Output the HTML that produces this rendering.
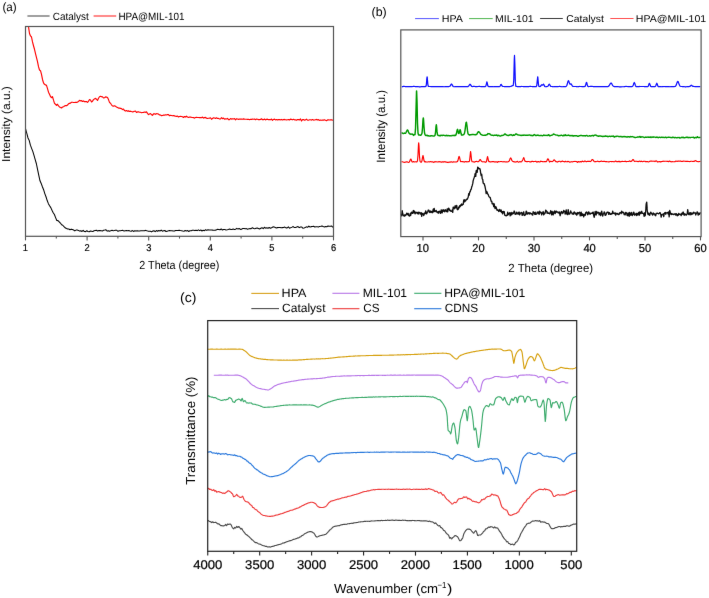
<!DOCTYPE html>
<html><head><meta charset="utf-8"><style>
html,body{margin:0;padding:0;background:#fff;width:709px;height:598px;overflow:hidden;}
body{position:relative;font-family:"Liberation Sans",sans-serif;}
</style></head><body>
<svg width="709" height="598" viewBox="0 0 709 598" style="position:absolute;left:0;top:0" font-family="Liberation Sans, sans-serif" text-rendering="geometricPrecision">
<defs><filter id="bl" filterUnits="userSpaceOnUse" x="0" y="0" width="709" height="598"><feConvolveMatrix order="3" kernelMatrix="0.0025 0.0450 0.0025 0.0450 0.8100 0.0450 0.0025 0.0450 0.0025" divisor="1" edgeMode="duplicate"/></filter></defs>
<rect width="709" height="598" fill="#fff"/><g filter="url(#bl)">
<text x="2.38" y="11.30" font-size="12" textLength="14.25" lengthAdjust="spacingAndGlyphs" fill="#000" stroke="#000" stroke-width="0.0">(a)</text>
<line x1="27.4" y1="16" x2="49.6" y2="16" stroke="#555" stroke-width="1.1"/>
<text x="52.80" y="19.50" font-size="10.5" textLength="35.87" lengthAdjust="spacingAndGlyphs" fill="#000" stroke="#000" stroke-width="0.0">Catalyst</text>
<line x1="93.6" y1="16" x2="116.2" y2="16" stroke="#ff2a2a" stroke-width="1.1"/>
<text x="118.39" y="19.60" font-size="10.5" textLength="66.09" lengthAdjust="spacingAndGlyphs" fill="#000" stroke="#000" stroke-width="0.0">HPA@MIL-101</text>
<path d="M28.50,26.70 L29.50,33.51 L30.50,35.96 L31.50,37.00 L32.50,41.91 L33.50,45.73 L34.50,49.27 L35.50,53.64 L36.50,57.65 L37.50,61.71 L38.50,66.68 L39.50,69.99 L40.50,70.66 L41.50,74.43 L42.50,79.47 L43.50,82.83 L44.50,84.35 L45.50,84.87 L46.50,85.34 L47.50,88.67 L48.50,92.18 L49.50,94.25 L50.50,96.50 L51.50,97.60 L52.50,96.72 L53.50,100.20 L54.50,103.33 L55.50,104.24 L56.50,105.28 L57.50,104.28 L58.50,105.93 L59.50,106.91 L60.50,107.54 L61.50,108.00 L62.50,107.02 L63.50,106.69 L64.50,106.07 L65.50,105.47 L66.50,105.78 L67.50,105.05 L68.50,103.83 L69.50,103.39 L70.50,103.12 L71.50,102.29 L72.50,102.29 L73.50,102.47 L74.50,102.54 L75.50,102.30 L76.50,102.35 L77.50,102.10 L78.50,101.44 L79.50,100.39 L80.50,100.82 L81.50,100.64 L82.50,101.45 L83.50,100.89 L84.50,101.79 L85.50,101.58 L86.50,101.53 L87.50,102.34 L88.50,101.32 L89.50,99.55 L90.50,100.00 L91.50,101.93 L92.50,101.18 L93.50,99.67 L94.50,98.88 L95.50,98.29 L96.50,99.26 L97.50,100.51 L98.50,98.25 L99.50,96.73 L100.50,96.31 L101.50,96.68 L102.50,96.88 L103.50,97.94 L104.50,97.69 L105.50,96.90 L106.50,97.07 L107.50,97.53 L108.50,99.59 L109.50,102.37 L110.50,103.22 L111.50,104.77 L112.50,105.99 L113.50,106.11 L114.50,105.80 L115.50,106.30 L116.50,106.97 L117.50,107.48 L118.50,108.07 L119.50,108.16 L120.50,108.36 L121.50,108.63 L122.50,109.55 L123.50,109.04 L124.50,110.60 L125.50,111.11 L126.50,110.56 L127.50,111.23 L128.50,110.85 L129.50,111.44 L130.50,111.16 L131.50,111.56 L132.50,111.87 L133.50,111.66 L134.50,111.28 L135.50,111.13 L136.50,112.48 L137.50,111.89 L138.50,111.80 L139.50,112.24 L140.50,112.23 L141.50,112.75 L142.50,112.47 L143.50,112.37 L144.50,112.00 L145.50,112.35 L146.50,111.89 L147.50,113.42 L148.50,114.64 L149.50,113.99 L150.50,113.56 L151.50,114.66 L152.50,115.33 L153.50,113.90 L154.50,113.71 L155.50,114.32 L156.50,113.68 L157.50,113.72 L158.50,114.15 L159.50,114.92 L160.50,114.99 L161.50,115.68 L162.50,115.53 L163.50,115.14 L164.50,115.19 L165.50,114.81 L166.50,115.03 L167.50,114.49 L168.50,114.64 L169.50,115.75 L170.50,115.31 L171.50,115.45 L172.50,115.81 L173.50,115.61 L174.50,115.86 L175.50,116.29 L176.50,116.41 L177.50,116.05 L178.50,116.98 L179.50,116.51 L180.50,116.37 L181.50,116.48 L182.50,116.71 L183.50,117.52 L184.50,116.50 L185.50,117.05 L186.50,116.22 L187.50,117.07 L188.50,117.46 L189.50,117.07 L190.50,116.96 L191.50,117.33 L192.50,117.55 L193.50,117.58 L194.50,118.12 L195.50,117.49 L196.50,117.23 L197.50,117.45 L198.50,117.51 L199.50,117.62 L200.50,117.61 L201.50,117.74 L202.50,117.09 L203.50,118.09 L204.50,117.61 L205.50,117.43 L206.50,118.17 L207.50,118.48 L208.50,118.21 L209.50,118.14 L210.50,117.77 L211.50,119.27 L212.50,118.56 L213.50,117.84 L214.50,118.03 L215.50,118.41 L216.50,117.83 L217.50,118.54 L218.50,118.35 L219.50,119.04 L220.50,118.98 L221.50,117.62 L222.50,118.70 L223.50,118.10 L224.50,119.16 L225.50,118.84 L226.50,119.02 L227.50,118.43 L228.50,119.57 L229.50,119.67 L230.50,118.53 L231.50,119.11 L232.50,118.74 L233.50,119.02 L234.50,118.58 L235.50,119.80 L236.50,118.76 L237.50,119.04 L238.50,119.38 L239.50,118.97 L240.50,119.16 L241.50,119.07 L242.50,119.26 L243.50,118.87 L244.50,119.17 L245.50,119.27 L246.50,119.23 L247.50,119.39 L248.50,119.27 L249.50,119.68 L250.50,119.29 L251.50,119.37 L252.50,119.18 L253.50,119.25 L254.50,118.98 L255.50,119.67 L256.50,119.05 L257.50,119.22 L258.50,119.65 L259.50,119.68 L260.50,119.39 L261.50,118.79 L262.50,119.73 L263.50,119.68 L264.50,119.06 L265.50,119.90 L266.50,119.35 L267.50,119.19 L268.50,119.66 L269.50,119.57 L270.50,119.72 L271.50,119.04 L272.50,120.35 L273.50,119.44 L274.50,119.09 L275.50,119.92 L276.50,119.56 L277.50,119.82 L278.50,119.58 L279.50,119.69 L280.50,119.82 L281.50,119.45 L282.50,120.00 L283.50,119.57 L284.50,119.43 L285.50,119.79 L286.50,119.94 L287.50,119.69 L288.50,119.46 L289.50,120.03 L290.50,119.13 L291.50,119.42 L292.50,119.83 L293.50,119.30 L294.50,119.83 L295.50,119.81 L296.50,120.17 L297.50,119.49 L298.50,119.60 L299.50,119.97 L300.50,118.92 L301.50,121.04 L302.50,119.60 L303.50,119.59 L304.50,120.20 L305.50,119.86 L306.50,119.21 L307.50,120.13 L308.50,120.22 L309.50,119.73 L310.50,119.80 L311.50,120.10 L312.50,119.58 L313.50,120.10 L314.50,120.01 L315.50,119.69 L316.50,119.43 L317.50,119.88 L318.50,119.64 L319.50,120.36 L320.50,120.05 L321.50,120.30 L322.50,120.06 L323.50,120.12 L324.50,119.73 L325.50,120.29 L326.50,120.72 L327.50,119.93 L328.50,119.84 L329.50,120.01 L330.50,119.90 L331.50,119.82 L332.50,120.15 L333.00,119.99" fill="none" stroke="#ff0000" stroke-width="1.15" stroke-linejoin="round"/>
<path d="M25.60,129.00 L26.80,133.35 L28.00,137.94 L29.20,140.37 L30.40,145.18 L31.60,148.33 L32.80,151.38 L34.00,155.39 L35.20,159.65 L36.40,163.77 L37.60,169.68 L38.80,175.42 L40.00,180.78 L41.20,183.43 L42.40,186.73 L43.60,189.68 L44.80,193.56 L46.00,196.77 L47.20,200.56 L48.40,203.67 L49.60,205.72 L50.80,207.65 L52.00,210.23 L53.20,212.66 L54.40,214.52 L55.60,217.60 L56.80,220.48 L58.00,220.61 L59.20,221.81 L60.40,223.03 L61.60,224.72 L62.80,225.25 L64.00,226.71 L65.20,227.77 L66.40,228.55 L67.60,228.87 L68.80,228.99 L70.00,229.68 L71.20,229.14 L72.40,229.61 L73.60,230.06 L74.80,230.85 L76.00,230.08 L77.20,230.09 L78.40,230.41 L79.60,231.11 L80.80,230.77 L82.00,231.48 L83.20,230.36 L84.40,231.58 L85.60,231.62 L86.80,230.77 L88.00,231.45 L89.20,231.70 L90.40,231.08 L91.60,231.24 L92.80,231.57 L94.00,230.72 L95.20,230.52 L96.40,230.35 L97.60,230.91 L98.80,230.60 L100.00,230.63 L101.20,230.66 L102.40,230.94 L103.60,230.28 L104.80,230.10 L106.00,229.75 L107.20,231.12 L108.40,230.69 L109.60,231.23 L110.80,230.64 L112.00,230.36 L113.20,230.82 L114.40,230.60 L115.60,230.15 L116.80,230.28 L118.00,231.28 L119.20,230.74 L120.40,230.76 L121.60,230.52 L122.80,230.39 L124.00,231.02 L125.20,230.67 L126.40,230.45 L127.60,230.71 L128.80,230.44 L130.00,230.89 L131.20,231.27 L132.40,230.55 L133.60,231.44 L134.80,230.67 L136.00,231.01 L137.20,230.66 L138.40,230.92 L139.60,231.01 L140.80,230.82 L142.00,230.72 L143.20,230.72 L144.40,230.66 L145.60,230.37 L146.80,230.86 L148.00,231.11 L149.20,231.30 L150.40,231.19 L151.60,231.87 L152.80,231.05 L154.00,230.75 L155.20,231.63 L156.40,230.52 L157.60,231.28 L158.80,230.54 L160.00,231.03 L161.20,230.14 L162.40,231.23 L163.60,230.82 L164.80,230.50 L166.00,231.50 L167.20,231.14 L168.40,230.86 L169.60,230.55 L170.80,230.81 L172.00,230.75 L173.20,231.08 L174.40,231.10 L175.60,230.54 L176.80,230.58 L178.00,230.57 L179.20,230.25 L180.40,230.53 L181.60,230.72 L182.80,231.01 L184.00,231.24 L185.20,230.42 L186.40,230.93 L187.60,230.54 L188.80,231.49 L190.00,230.65 L191.20,230.83 L192.40,230.25 L193.60,230.26 L194.80,230.61 L196.00,230.35 L197.20,230.60 L198.40,229.83 L199.60,230.64 L200.80,230.02 L202.00,230.98 L203.20,230.18 L204.40,230.67 L205.60,229.69 L206.80,230.35 L208.00,229.81 L209.20,229.93 L210.40,230.09 L211.60,229.92 L212.80,230.11 L214.00,230.26 L215.20,230.19 L216.40,229.87 L217.60,229.35 L218.80,229.53 L220.00,229.73 L221.20,228.94 L222.40,229.98 L223.60,229.56 L224.80,229.50 L226.00,229.91 L227.20,229.75 L228.40,229.53 L229.60,229.02 L230.80,229.46 L232.00,229.43 L233.20,228.91 L234.40,229.59 L235.60,229.34 L236.80,228.34 L238.00,229.09 L239.20,228.51 L240.40,229.37 L241.60,229.20 L242.80,228.42 L244.00,228.45 L245.20,228.78 L246.40,228.60 L247.60,229.22 L248.80,228.87 L250.00,228.44 L251.20,228.72 L252.40,227.68 L253.60,228.53 L254.80,228.69 L256.00,228.25 L257.20,228.00 L258.40,228.44 L259.60,228.93 L260.80,228.21 L262.00,227.66 L263.20,228.59 L264.40,227.29 L265.60,228.15 L266.80,227.69 L268.00,228.22 L269.20,227.50 L270.40,228.28 L271.60,227.84 L272.80,227.03 L274.00,226.89 L275.20,227.48 L276.40,228.07 L277.60,227.61 L278.80,227.56 L280.00,227.43 L281.20,227.78 L282.40,227.62 L283.60,227.57 L284.80,227.07 L286.00,227.88 L287.20,227.92 L288.40,226.89 L289.60,228.24 L290.80,227.62 L292.00,227.14 L293.20,226.59 L294.40,227.54 L295.60,227.48 L296.80,227.02 L298.00,226.55 L299.20,227.64 L300.40,226.97 L301.60,226.98 L302.80,228.21 L304.00,227.91 L305.20,227.44 L306.40,226.87 L307.60,227.26 L308.80,226.12 L310.00,227.00 L311.20,226.64 L312.40,226.41 L313.60,226.27 L314.80,227.04 L316.00,226.85 L317.20,226.84 L318.40,227.07 L319.60,226.40 L320.80,226.23 L322.00,225.99 L323.20,226.51 L324.40,226.90 L325.60,226.52 L326.80,226.79 L328.00,226.07 L329.20,226.31 L330.40,226.17 L331.60,225.96 L332.80,227.11 L333.00,226.72" fill="none" stroke="#000" stroke-width="1.05" stroke-linejoin="round"/>
<rect x="25.5" y="26.5" width="308.0" height="209.8" fill="none" stroke="#555" stroke-width="1.2"/>
<line x1="25.50" y1="236.3" x2="25.50" y2="240.4" stroke="#555" stroke-width="1.1"/>
<text x="22.78" y="250.60" font-size="10.0" textLength="5.17" lengthAdjust="spacingAndGlyphs" fill="#000" stroke="#000" stroke-width="0.22">1</text>
<line x1="87.10" y1="236.3" x2="87.10" y2="240.4" stroke="#555" stroke-width="1.1"/>
<text x="84.51" y="250.60" font-size="10.0" textLength="5.17" lengthAdjust="spacingAndGlyphs" fill="#000" stroke="#000" stroke-width="0.22">2</text>
<line x1="148.70" y1="236.3" x2="148.70" y2="240.4" stroke="#555" stroke-width="1.1"/>
<text x="146.14" y="250.60" font-size="10.0" textLength="5.17" lengthAdjust="spacingAndGlyphs" fill="#000" stroke="#000" stroke-width="0.22">3</text>
<line x1="210.30" y1="236.3" x2="210.30" y2="240.4" stroke="#555" stroke-width="1.1"/>
<text x="207.75" y="250.60" font-size="10.0" textLength="5.17" lengthAdjust="spacingAndGlyphs" fill="#000" stroke="#000" stroke-width="0.22">4</text>
<line x1="271.90" y1="236.3" x2="271.90" y2="240.4" stroke="#555" stroke-width="1.1"/>
<text x="269.32" y="250.60" font-size="10.0" textLength="5.17" lengthAdjust="spacingAndGlyphs" fill="#000" stroke="#000" stroke-width="0.22">5</text>
<line x1="333.50" y1="236.3" x2="333.50" y2="240.4" stroke="#555" stroke-width="1.1"/>
<text x="330.88" y="250.60" font-size="10.0" textLength="5.17" lengthAdjust="spacingAndGlyphs" fill="#000" stroke="#000" stroke-width="0.22">6</text>
<line x1="56.30" y1="236.3" x2="56.30" y2="238.6" stroke="#555" stroke-width="1.1"/>
<line x1="117.90" y1="236.3" x2="117.90" y2="238.6" stroke="#555" stroke-width="1.1"/>
<line x1="179.50" y1="236.3" x2="179.50" y2="238.6" stroke="#555" stroke-width="1.1"/>
<line x1="241.10" y1="236.3" x2="241.10" y2="238.6" stroke="#555" stroke-width="1.1"/>
<line x1="302.70" y1="236.3" x2="302.70" y2="238.6" stroke="#555" stroke-width="1.1"/>
<text x="139.26" y="268.80" font-size="11.7" textLength="80.10" lengthAdjust="spacingAndGlyphs" fill="#000" stroke="#000" stroke-width="0.0">2 Theta (degree)</text>
<text transform="rotate(-90)" x="-161.90" y="10.00" font-size="11.5" textLength="75.74" lengthAdjust="spacingAndGlyphs" fill="#000" stroke="#000" stroke-width="0.0">Intensity (a.u.)</text>
<text x="371.53" y="16.00" font-size="12.4" textLength="15.14" lengthAdjust="spacingAndGlyphs" fill="#000" stroke="#000" stroke-width="0.0">(b)</text>
<line x1="415.1" y1="18.6" x2="438.9" y2="18.6" stroke="#4a4aff" stroke-width="0.95"/>
<text x="441.72" y="22.20" font-size="9.9" textLength="21.20" lengthAdjust="spacingAndGlyphs" fill="#000" stroke="#000" stroke-width="0.0">HPA</text>
<line x1="469.1" y1="18.6" x2="492.7" y2="18.6" stroke="#44b044" stroke-width="0.95"/>
<text x="495.14" y="22.20" font-size="9.9" textLength="38.47" lengthAdjust="spacingAndGlyphs" fill="#000" stroke="#000" stroke-width="0.0">MIL-101</text>
<line x1="540.1" y1="18.5" x2="562.8" y2="18.5" stroke="#333" stroke-width="0.95"/>
<text x="566.28" y="22.20" font-size="9.9" textLength="37.60" lengthAdjust="spacingAndGlyphs" fill="#000" stroke="#000" stroke-width="0.0">Catalyst</text>
<line x1="610.3" y1="18.5" x2="633.5" y2="18.5" stroke="#ff4444" stroke-width="0.95"/>
<text x="635.83" y="22.20" font-size="9.9" textLength="70.38" lengthAdjust="spacingAndGlyphs" fill="#000" stroke="#000" stroke-width="0.0">HPA@MIL-101</text>
<path d="M401.80,86.80 L402.30,86.69 L402.80,86.57 L403.30,86.46 L403.80,86.34 L404.30,86.42 L404.80,86.49 L405.30,86.57 L405.80,86.64 L406.30,86.62 L406.80,86.59 L407.30,86.57 L407.80,86.54 L408.30,86.55 L408.80,86.55 L409.30,86.55 L409.80,86.55 L410.30,86.56 L410.80,86.57 L411.30,86.57 L411.80,86.58 L412.30,86.53 L412.80,86.49 L413.30,86.44 L413.80,86.40 L414.30,86.44 L414.80,86.49 L415.30,86.53 L415.80,86.58 L416.30,86.56 L416.80,86.55 L417.30,86.53 L417.80,86.51 L418.30,86.62 L418.80,86.72 L419.30,86.83 L419.80,86.93 L420.30,86.85 L420.80,86.78 L421.30,86.70 L421.80,86.62 L422.30,86.61 L422.80,86.59 L423.30,86.58 L423.80,86.56 L424.30,86.57 L424.80,86.57 L425.30,86.57 L425.80,86.49 L426.30,84.96 L426.80,78.96 L427.10,76.75 L427.30,77.79 L427.80,84.09 L428.30,86.36 L428.80,86.51 L429.30,86.50 L429.80,86.49 L430.30,86.51 L430.80,86.53 L431.30,86.54 L431.80,86.56 L432.30,86.58 L432.80,86.60 L433.30,86.63 L433.80,86.65 L434.30,86.63 L434.80,86.61 L435.30,86.59 L435.80,86.58 L436.30,86.61 L436.80,86.64 L437.30,86.67 L437.80,86.70 L438.30,86.67 L438.80,86.64 L439.30,86.61 L439.80,86.58 L440.30,86.59 L440.80,86.59 L441.30,86.60 L441.80,86.60 L442.30,86.64 L442.80,86.68 L443.30,86.72 L443.80,86.75 L444.30,86.73 L444.80,86.70 L445.30,86.68 L445.80,86.65 L446.30,86.63 L446.80,86.60 L447.30,86.58 L447.80,86.55 L448.30,86.56 L448.80,86.56 L449.30,86.51 L449.80,86.31 L450.30,85.76 L450.80,84.84 L451.30,84.12 L451.50,84.04 L451.80,84.23 L452.30,85.11 L452.80,86.03 L453.30,86.55 L453.80,86.75 L454.30,86.73 L454.80,86.68 L455.30,86.63 L455.80,86.57 L456.30,86.57 L456.80,86.57 L457.30,86.57 L457.80,86.58 L458.30,86.61 L458.80,86.64 L459.30,86.67 L459.80,86.70 L460.30,86.65 L460.80,86.61 L461.30,86.56 L461.80,86.51 L462.30,86.53 L462.80,86.54 L463.30,86.56 L463.80,86.57 L464.30,86.60 L464.80,86.63 L465.30,86.66 L465.80,86.69 L466.30,86.68 L466.80,86.67 L467.30,86.66 L467.80,86.60 L468.30,86.39 L468.80,85.85 L469.30,84.98 L469.80,84.28 L470.00,84.21 L470.30,84.39 L470.80,85.18 L471.30,86.01 L471.80,86.48 L472.30,86.54 L472.80,86.49 L473.30,86.40 L473.80,86.32 L474.30,86.41 L474.80,86.51 L475.30,86.61 L475.80,86.70 L476.30,86.65 L476.80,86.60 L477.30,86.55 L477.80,86.50 L478.30,86.49 L478.80,86.47 L479.30,86.45 L479.80,86.43 L480.30,86.48 L480.80,86.53 L481.30,86.58 L481.80,86.63 L482.30,86.64 L482.80,86.65 L483.30,86.66 L483.80,86.67 L484.30,86.64 L484.80,86.61 L485.30,86.56 L485.80,86.15 L486.30,84.30 L486.80,82.02 L486.90,81.92 L487.30,83.17 L487.80,85.58 L488.30,86.43 L488.80,86.54 L489.30,86.58 L489.80,86.60 L490.30,86.60 L490.80,86.60 L491.30,86.60 L491.80,86.59 L492.30,86.63 L492.80,86.67 L493.30,86.70 L493.80,86.74 L494.30,86.72 L494.80,86.71 L495.30,86.69 L495.80,86.67 L496.30,86.66 L496.80,86.65 L497.30,86.63 L497.80,86.62 L498.30,86.64 L498.80,86.66 L499.30,86.66 L499.80,86.49 L500.30,85.73 L500.80,84.62 L501.10,84.33 L501.30,84.44 L501.80,85.41 L502.30,86.25 L502.80,86.50 L503.30,86.52 L503.80,86.51 L504.30,86.55 L504.80,86.58 L505.30,86.62 L505.80,86.66 L506.30,86.66 L506.80,86.66 L507.30,86.66 L507.80,86.66 L508.30,86.64 L508.80,86.62 L509.30,86.59 L509.80,86.55 L510.30,86.48 L510.80,86.36 L511.30,86.17 L511.80,85.92 L512.30,85.70 L512.80,85.58 L513.00,85.56 L513.30,85.29 L513.80,79.20 L514.30,58.99 L514.50,55.47 L514.80,63.06 L515.30,82.12 L515.80,86.13 L516.30,86.41 L516.80,86.50 L517.30,86.59 L517.80,86.67 L518.30,86.66 L518.80,86.66 L519.30,86.65 L519.80,86.65 L520.30,86.60 L520.80,86.54 L521.30,86.49 L521.80,86.44 L522.30,86.48 L522.80,86.52 L523.30,86.56 L523.80,86.61 L524.30,86.58 L524.80,86.55 L525.30,86.53 L525.80,86.50 L526.30,86.55 L526.80,86.59 L527.30,86.63 L527.80,86.68 L528.30,86.61 L528.80,86.54 L529.30,86.47 L529.80,86.40 L530.30,86.42 L530.80,86.45 L531.30,86.48 L531.80,86.51 L532.30,86.55 L532.80,86.59 L533.30,86.63 L533.80,86.67 L534.30,86.68 L534.80,86.69 L535.30,86.70 L535.80,86.72 L536.30,86.60 L536.80,85.58 L537.30,80.37 L537.70,76.80 L537.80,77.05 L538.30,82.97 L538.80,86.16 L539.30,86.50 L539.80,86.54 L540.30,86.45 L540.80,86.01 L541.30,85.17 L541.70,84.80 L541.80,84.81 L542.30,85.19 L542.80,85.04 L543.30,84.24 L543.50,84.13 L543.80,84.42 L544.30,85.61 L544.80,86.42 L545.30,86.68 L545.80,86.76 L546.30,86.69 L546.80,86.62 L547.30,86.51 L547.80,86.24 L548.30,85.65 L548.80,84.70 L549.30,84.20 L549.80,84.78 L550.30,85.74 L550.80,86.32 L551.30,86.49 L551.80,86.49 L552.30,86.56 L552.80,86.62 L553.30,86.68 L553.80,86.74 L554.30,86.70 L554.80,86.67 L555.30,86.63 L555.80,86.60 L556.30,86.59 L556.80,86.58 L557.30,86.57 L557.80,86.56 L558.30,86.53 L558.80,86.50 L559.30,86.46 L559.80,86.43 L560.30,86.51 L560.80,86.60 L561.30,86.68 L561.80,86.77 L562.30,86.74 L562.80,86.72 L563.30,86.70 L563.80,86.68 L564.30,86.68 L564.80,86.67 L565.30,86.66 L565.80,86.58 L566.30,86.29 L566.80,85.46 L567.30,83.86 L567.80,81.91 L568.30,80.72 L568.40,80.68 L568.80,81.18 L569.30,82.74 L569.80,84.00 L570.30,84.19 L570.80,83.89 L571.00,83.88 L571.30,84.10 L571.80,84.95 L572.30,85.84 L572.80,86.32 L573.30,86.48 L573.80,86.51 L574.30,86.52 L574.80,86.52 L575.30,86.52 L575.80,86.52 L576.30,86.57 L576.80,86.63 L577.30,86.68 L577.80,86.74 L578.30,86.67 L578.80,86.60 L579.30,86.52 L579.80,86.45 L580.30,86.48 L580.80,86.50 L581.30,86.52 L581.80,86.54 L582.30,86.55 L582.80,86.55 L583.30,86.56 L583.80,86.57 L584.30,86.58 L584.80,86.52 L585.30,86.04 L585.80,84.50 L586.30,82.66 L586.50,82.43 L586.80,82.93 L587.30,84.92 L587.80,86.26 L588.30,86.57 L588.80,86.56 L589.30,86.52 L589.80,86.48 L590.30,86.46 L590.80,86.45 L591.30,86.44 L591.80,86.43 L592.30,86.47 L592.80,86.51 L593.30,86.56 L593.80,86.60 L594.30,86.63 L594.80,86.66 L595.30,86.69 L595.80,86.72 L596.30,86.71 L596.80,86.70 L597.30,86.69 L597.80,86.68 L598.30,86.66 L598.80,86.65 L599.30,86.64 L599.80,86.62 L600.30,86.61 L600.80,86.59 L601.30,86.58 L601.80,86.57 L602.30,86.58 L602.80,86.60 L603.30,86.61 L603.80,86.63 L604.30,86.62 L604.80,86.60 L605.30,86.59 L605.80,86.58 L606.30,86.60 L606.80,86.63 L607.30,86.64 L607.80,86.63 L608.30,86.46 L608.80,86.11 L609.30,85.47 L609.80,84.54 L610.30,83.60 L610.80,83.03 L611.00,82.98 L611.30,83.12 L611.80,83.85 L612.30,84.82 L612.80,85.66 L613.30,86.19 L613.80,86.45 L614.30,86.57 L614.80,86.61 L615.30,86.64 L615.80,86.65 L616.30,86.65 L616.80,86.64 L617.30,86.63 L617.80,86.62 L618.30,86.68 L618.80,86.74 L619.30,86.80 L619.80,86.86 L620.30,86.83 L620.80,86.80 L621.30,86.78 L621.80,86.75 L622.30,86.75 L622.80,86.75 L623.30,86.75 L623.80,86.75 L624.30,86.66 L624.80,86.57 L625.30,86.48 L625.80,86.40 L626.30,86.44 L626.80,86.48 L627.30,86.52 L627.80,86.57 L628.30,86.56 L628.80,86.55 L629.30,86.55 L629.80,86.54 L630.30,86.57 L630.80,86.60 L631.30,86.62 L631.80,86.65 L632.30,86.52 L632.80,86.11 L633.30,85.00 L633.80,83.27 L634.30,82.46 L634.80,83.45 L635.30,85.19 L635.80,86.31 L636.30,86.65 L636.80,86.71 L637.30,86.71 L637.80,86.71 L638.30,86.65 L638.80,86.59 L639.30,86.53 L639.80,86.47 L640.30,86.48 L640.80,86.49 L641.30,86.49 L641.80,86.50 L642.30,86.51 L642.80,86.51 L643.30,86.52 L643.80,86.52 L644.30,86.54 L644.80,86.56 L645.30,86.58 L645.80,86.60 L646.30,86.62 L646.80,86.63 L647.30,86.64 L647.80,86.56 L648.30,86.05 L648.80,84.61 L649.30,83.32 L649.40,83.28 L649.80,84.00 L650.30,85.61 L650.80,86.46 L651.30,86.61 L651.80,86.58 L652.30,86.60 L652.80,86.63 L653.30,86.65 L653.80,86.68 L654.30,86.66 L654.80,86.63 L655.30,86.48 L655.80,85.74 L656.30,84.18 L656.80,83.20 L657.30,84.26 L657.80,85.90 L658.30,86.60 L658.80,86.71 L659.30,86.70 L659.80,86.67 L660.30,86.69 L660.80,86.71 L661.30,86.72 L661.80,86.74 L662.30,86.68 L662.80,86.61 L663.30,86.55 L663.80,86.49 L664.30,86.51 L664.80,86.54 L665.30,86.56 L665.80,86.58 L666.30,86.57 L666.80,86.55 L667.30,86.53 L667.80,86.52 L668.30,86.58 L668.80,86.63 L669.30,86.69 L669.80,86.75 L670.30,86.73 L670.80,86.71 L671.30,86.69 L671.80,86.67 L672.30,86.64 L672.80,86.62 L673.30,86.59 L673.80,86.57 L674.30,86.55 L674.80,86.50 L675.30,86.33 L675.80,85.84 L676.30,84.86 L676.80,83.39 L677.30,81.95 L677.80,81.35 L678.30,81.94 L678.80,83.37 L679.30,84.84 L679.80,85.81 L680.30,86.29 L680.80,86.46 L681.30,86.50 L681.80,86.51 L682.30,86.54 L682.80,86.58 L683.30,86.61 L683.80,86.65 L684.30,86.70 L684.80,86.75 L685.30,86.80 L685.80,86.85 L686.30,86.78 L686.80,86.71 L687.30,86.64 L687.80,86.58 L688.30,86.57 L688.80,86.56 L689.30,86.53 L689.80,86.41 L690.30,86.06 L690.80,85.51 L691.30,85.20 L691.80,85.48 L692.30,86.01 L692.80,86.34 L693.30,86.45 L693.80,86.46 L694.30,86.51 L694.80,86.56 L695.30,86.61 L695.80,86.65 L696.30,86.66 L696.80,86.67 L697.30,86.68 L697.80,86.69 L698.30,86.66 L698.80,86.64 L699.30,86.62 L699.80,86.60 L700.30,86.61" fill="none" stroke="#0808ff" stroke-width="1.2" stroke-linejoin="round"/>
<path d="M401.50,132.69 L402.00,132.86 L402.50,133.14 L403.00,133.56 L403.50,133.56 L404.00,133.41 L404.50,133.08 L405.00,133.14 L405.50,133.27 L406.00,132.58 L406.50,131.43 L407.00,130.46 L407.40,129.95 L407.50,129.90 L408.00,130.42 L408.50,131.98 L409.00,133.11 L409.50,133.63 L410.00,134.06 L410.50,134.17 L411.00,133.94 L411.50,134.12 L412.00,134.28 L412.50,134.10 L413.00,134.57 L413.50,135.48 L414.00,134.89 L414.50,134.62 L415.00,134.58 L415.50,129.19 L416.00,110.72 L416.50,91.70 L416.60,90.96 L417.00,101.14 L417.50,123.32 L418.00,133.08 L418.50,134.77 L419.00,135.07 L419.50,135.04 L420.00,135.03 L420.50,135.37 L421.00,135.14 L421.50,134.38 L422.00,133.31 L422.50,128.04 L423.00,119.77 L423.30,117.86 L423.50,118.93 L424.00,126.71 L424.50,132.62 L425.00,134.67 L425.50,135.33 L426.00,135.50 L426.50,135.48 L427.00,135.20 L427.50,135.55 L428.00,135.93 L428.50,135.82 L429.00,135.90 L429.50,136.09 L430.00,136.13 L430.50,136.02 L431.00,135.70 L431.50,135.69 L432.00,135.78 L432.50,135.86 L433.00,135.97 L433.50,136.11 L434.00,136.09 L434.50,135.93 L435.00,135.26 L435.50,132.57 L436.00,126.59 L436.30,124.79 L436.50,125.58 L437.00,131.40 L437.50,134.81 L438.00,135.41 L438.50,135.45 L439.00,135.43 L439.50,135.73 L440.00,135.92 L440.50,135.45 L441.00,135.29 L441.50,135.34 L442.00,135.49 L442.50,135.48 L443.00,135.23 L443.50,135.27 L444.00,135.38 L444.50,135.47 L445.00,135.59 L445.50,135.74 L446.00,135.36 L446.50,135.34 L447.00,135.85 L447.50,135.70 L448.00,135.47 L448.50,135.58 L449.00,135.71 L449.50,135.84 L450.00,135.82 L450.50,135.81 L451.00,135.86 L451.50,135.72 L452.00,135.56 L452.50,135.51 L453.00,135.51 L453.50,135.55 L454.00,135.29 L454.50,135.29 L455.00,135.68 L455.50,135.42 L456.00,134.82 L456.50,133.35 L457.00,130.65 L457.50,129.32 L458.00,130.81 L458.50,133.33 L459.00,133.54 L459.50,131.72 L460.00,129.86 L460.10,129.69 L460.50,130.52 L461.00,133.30 L461.50,135.07 L462.00,135.04 L462.50,134.89 L463.00,134.98 L463.50,134.71 L464.00,134.20 L464.50,133.11 L465.00,130.57 L465.50,126.50 L466.00,122.86 L466.30,122.18 L466.50,122.58 L467.00,126.04 L467.50,130.68 L468.00,133.75 L468.50,134.36 L469.00,134.68 L469.50,135.11 L470.00,134.80 L470.50,134.66 L471.00,134.76 L471.50,134.58 L472.00,134.40 L472.50,134.41 L473.00,134.50 L473.50,134.64 L474.00,134.57 L474.50,134.61 L475.00,134.82 L475.50,134.70 L476.00,134.51 L476.50,134.51 L477.00,133.92 L477.50,132.89 L478.00,132.08 L478.50,131.67 L478.70,131.70 L479.00,131.92 L479.50,132.46 L480.00,133.20 L480.50,133.91 L481.00,134.45 L481.50,134.77 L482.00,134.93 L482.50,135.08 L483.00,135.33 L483.50,135.35 L484.00,135.30 L484.50,135.23 L485.00,135.25 L485.50,135.32 L486.00,135.02 L486.50,134.82 L487.00,134.77 L487.50,134.17 L488.00,133.57 L488.50,133.78 L488.90,133.81 L489.00,133.77 L489.50,133.74 L490.00,134.14 L490.50,134.61 L491.00,135.02 L491.50,135.16 L492.00,135.17 L492.50,135.17 L493.00,135.34 L493.50,135.63 L494.00,135.44 L494.50,135.25 L495.00,135.06 L495.50,135.24 L496.00,135.37 L496.50,134.98 L497.00,135.21 L497.50,135.85 L498.00,135.51 L498.50,135.33 L499.00,135.39 L499.50,135.74 L500.00,136.07 L500.50,136.05 L501.00,135.80 L501.50,135.40 L502.00,135.44 L502.50,135.41 L503.00,135.29 L503.50,135.10 L504.00,134.78 L504.50,134.17 L504.90,133.98 L505.00,133.99 L505.50,134.19 L506.00,134.70 L506.50,135.08 L507.00,135.15 L507.50,135.35 L508.00,135.49 L508.50,135.49 L509.00,135.29 L509.50,134.96 L510.00,135.01 L510.50,134.90 L511.00,134.56 L511.50,134.85 L512.00,135.26 L512.50,135.55 L513.00,135.38 L513.50,134.87 L514.00,135.19 L514.50,135.17 L515.00,134.75 L515.50,134.20 L516.00,133.89 L516.50,134.05 L517.00,134.43 L517.50,134.81 L518.00,134.89 L518.50,134.94 L519.00,135.09 L519.50,135.15 L520.00,135.21 L520.50,135.34 L521.00,135.41 L521.50,135.45 L522.00,135.16 L522.50,135.11 L523.00,135.40 L523.50,135.22 L524.00,135.01 L524.50,135.13 L525.00,135.23 L525.50,135.34 L526.00,135.27 L526.50,135.22 L527.00,135.20 L527.50,135.26 L528.00,135.29 L528.50,135.14 L529.00,135.07 L529.50,135.05 L530.00,135.14 L530.50,135.28 L531.00,135.50 L531.50,135.39 L532.00,135.30 L532.50,135.68 L533.00,135.65 L533.50,135.33 L534.00,134.74 L534.50,134.57 L535.00,135.05 L535.50,135.46 L536.00,135.72 L536.50,135.41 L537.00,135.24 L537.50,135.16 L538.00,135.08 L538.50,135.20 L539.00,135.61 L539.50,135.65 L540.00,135.59 L540.50,135.53 L541.00,135.48 L541.50,135.44 L542.00,135.63 L542.50,135.70 L543.00,135.58 L543.50,135.26 L544.00,135.03 L544.50,135.40 L545.00,135.49 L545.50,135.38 L546.00,135.33 L546.50,135.36 L547.00,135.53 L547.50,135.46 L548.00,135.24 L548.50,134.68 L549.00,134.97 L549.50,135.81 L550.00,135.72 L550.50,135.57 L551.00,135.35 L551.50,135.23 L552.00,135.11 L552.50,135.01 L553.00,134.55 L553.50,133.95 L554.00,134.11 L554.50,134.39 L555.00,134.62 L555.50,134.91 L556.00,135.09 L556.50,135.10 L557.00,135.12 L557.50,135.18 L558.00,135.52 L558.50,135.74 L559.00,135.79 L559.50,135.67 L560.00,135.53 L560.50,135.43 L561.00,135.31 L561.50,135.16 L562.00,135.47 L562.50,135.72 L563.00,135.89 L563.50,135.45 L564.00,135.08 L564.50,135.61 L565.00,135.45 L565.50,134.83 L566.00,135.18 L566.50,135.45 L567.00,135.59 L567.50,135.37 L568.00,135.10 L568.50,135.08 L569.00,135.27 L569.50,135.60 L570.00,135.74 L570.50,135.72 L571.00,135.47 L571.50,135.70 L572.00,135.90 L572.50,135.51 L573.00,135.65 L573.50,136.13 L574.00,135.83 L574.50,135.66 L575.00,135.69 L575.50,135.76 L576.00,135.81 L576.50,135.77 L577.00,135.92 L577.50,136.22 L578.00,136.29 L578.50,136.21 L579.00,135.91 L579.50,135.75 L580.00,135.61 L580.50,135.43 L581.00,135.41 L581.50,135.50 L582.00,135.65 L582.50,135.73 L583.00,135.72 L583.50,135.73 L584.00,135.75 L584.50,135.77 L585.00,135.83 L585.50,135.93 L586.00,135.59 L586.50,135.42 L587.00,135.49 L587.50,135.83 L588.00,136.15 L588.50,136.10 L589.00,135.93 L589.50,135.68 L590.00,136.03 L590.50,136.10 L591.00,135.74 L591.50,135.73 L592.00,135.74 L592.50,135.44 L593.00,135.57 L593.50,135.93 L594.00,135.52 L594.50,135.18 L595.00,135.13 L595.30,135.09 L595.50,135.09 L596.00,135.25 L596.50,135.47 L597.00,135.73 L597.50,135.91 L598.00,136.18 L598.50,136.23 L599.00,135.99 L599.50,135.95 L600.00,135.97 L600.50,136.02 L601.00,136.13 L601.50,136.28 L602.00,136.32 L602.50,136.42 L603.00,136.62 L603.50,136.37 L604.00,136.14 L604.50,136.40 L605.00,136.30 L605.50,135.96 L606.00,136.20 L606.50,136.32 L607.00,136.25 L607.50,136.48 L608.00,136.70 L608.50,136.50 L609.00,136.31 L609.50,136.12 L610.00,136.33 L610.50,136.44 L611.00,136.41 L611.50,136.32 L612.00,136.23 L612.50,136.25 L613.00,136.19 L613.50,136.08 L614.00,136.79 L614.50,137.02 L615.00,136.54 L615.50,136.58 L616.00,136.64 L616.50,136.25 L617.00,136.12 L617.50,136.14 L618.00,136.33 L618.50,136.45 L619.00,136.46 L619.50,136.62 L620.00,136.71 L620.50,136.38 L621.00,136.43 L621.50,136.74 L622.00,136.93 L622.50,136.87 L623.00,136.43 L623.50,136.63 L624.00,136.84 L624.50,136.50 L625.00,136.52 L625.50,136.78 L626.00,136.80 L626.50,136.92 L627.00,137.19 L627.50,136.89 L628.00,136.57 L628.50,136.74 L629.00,136.92 L629.50,137.10 L630.00,136.69 L630.50,136.54 L631.00,136.77 L631.50,136.70 L632.00,136.59 L632.50,136.64 L633.00,136.82 L633.50,137.09 L634.00,137.11 L634.50,137.26 L635.00,137.63 L635.50,137.53 L636.00,137.36 L636.50,137.36 L637.00,137.20 L637.50,136.94 L638.00,136.93 L638.50,136.96 L639.00,137.05 L639.50,136.72 L640.00,136.52 L640.50,137.27 L641.00,137.32 L641.50,136.89 L642.00,136.83 L642.50,136.85 L643.00,136.97 L643.50,137.21 L644.00,137.43 L644.50,137.51 L645.00,137.37 L645.50,137.08 L646.00,137.25 L646.50,137.31 L647.00,137.23 L647.50,137.09 L648.00,137.00 L648.50,137.23 L649.00,137.32 L649.50,137.30 L650.00,137.02 L650.50,137.05 L651.00,137.55 L651.50,137.25 L652.00,136.92 L652.50,137.26 L653.00,137.25 L653.50,137.01 L654.00,137.06 L654.50,137.10 L655.00,137.12 L655.50,137.34 L656.00,137.48 L656.50,137.12 L657.00,137.09 L657.50,137.29 L658.00,137.62 L658.50,137.65 L659.00,137.24 L659.50,137.25 L660.00,137.38 L660.50,137.52 L661.00,137.43 L661.50,137.20 L662.00,137.40 L662.50,137.44 L663.00,137.23 L663.50,137.39 L664.00,137.58 L664.50,137.46 L665.00,137.30 L665.50,137.12 L666.00,137.56 L666.50,137.71 L667.00,137.43 L667.50,137.35 L668.00,137.30 L668.50,137.19 L669.00,137.19 L669.50,137.28 L670.00,137.35 L670.50,137.42 L671.00,137.47 L671.50,137.62 L672.00,137.68 L672.50,137.23 L673.00,137.16 L673.50,137.34 L674.00,137.63 L674.50,137.73 L675.00,137.55 L675.50,137.55 L676.00,137.63 L676.50,137.85 L677.00,137.80 L677.50,137.57 L678.00,137.60 L678.50,137.58 L679.00,137.48 L679.50,137.74 L680.00,137.99 L680.50,137.86 L681.00,137.61 L681.50,137.28 L682.00,137.52 L682.50,137.54 L683.00,137.22 L683.50,137.50 L684.00,137.82 L684.50,137.74 L685.00,137.62 L685.50,137.47 L686.00,137.43 L686.50,137.30 L687.00,137.04 L687.50,137.37 L688.00,137.73 L688.50,137.56 L689.00,137.48 L689.50,137.45 L690.00,137.64 L690.50,137.66 L691.00,137.40 L691.50,137.36 L692.00,137.37 L692.50,137.36 L693.00,137.28 L693.50,137.16 L694.00,137.86 L694.50,138.09 L695.00,137.61 L695.50,137.49 L696.00,137.52 L696.50,137.76 L697.00,137.40 L697.50,136.64 L698.00,137.23 L698.50,137.58 L699.00,137.60 L699.50,137.45 L700.00,137.36 L700.50,137.63" fill="none" stroke="#009a00" stroke-width="1.45" stroke-linejoin="round"/>
<path d="M401.50,161.87 L402.00,161.78 L402.50,161.80 L403.00,161.99 L403.50,162.12 L404.00,162.23 L404.50,162.36 L405.00,162.30 L405.50,162.12 L406.00,162.00 L406.50,161.91 L407.00,161.87 L407.50,162.07 L408.00,162.32 L408.50,162.46 L409.00,162.29 L409.50,161.67 L410.00,160.49 L410.50,159.31 L410.80,159.10 L411.00,159.23 L411.50,160.54 L412.00,161.85 L412.50,162.08 L413.00,161.89 L413.50,161.57 L414.00,161.86 L414.50,161.96 L415.00,161.77 L415.50,161.80 L416.00,161.88 L416.50,161.90 L417.00,161.83 L417.50,160.76 L418.00,154.81 L418.50,144.30 L418.70,142.77 L419.00,145.89 L419.50,156.57 L420.00,161.25 L420.50,162.05 L421.00,162.18 L421.50,162.11 L422.00,160.60 L422.50,157.41 L423.00,155.48 L423.50,157.60 L424.00,160.55 L424.50,161.76 L425.00,161.85 L425.50,161.66 L426.00,161.88 L426.50,162.02 L427.00,162.00 L427.50,161.96 L428.00,161.90 L428.50,161.77 L429.00,161.78 L429.50,161.89 L430.00,161.77 L430.50,161.68 L431.00,161.63 L431.50,161.84 L432.00,162.01 L432.50,161.78 L433.00,161.92 L433.50,162.32 L434.00,162.24 L434.50,162.00 L435.00,161.52 L435.50,161.74 L436.00,162.01 L436.50,161.77 L437.00,161.79 L437.50,161.99 L438.00,161.99 L438.50,161.84 L439.00,161.49 L439.50,161.66 L440.00,161.90 L440.50,161.90 L441.00,162.02 L441.50,162.23 L442.00,161.86 L442.50,161.76 L443.00,162.10 L443.50,161.91 L444.00,161.67 L444.50,161.81 L445.00,161.81 L445.50,161.72 L446.00,162.11 L446.50,162.29 L447.00,162.14 L447.50,162.36 L448.00,162.56 L448.50,162.25 L449.00,162.14 L449.50,162.17 L450.00,162.17 L450.50,162.07 L451.00,161.81 L451.50,161.84 L452.00,161.96 L452.50,162.21 L453.00,162.12 L453.50,161.81 L454.00,161.91 L454.50,161.96 L455.00,161.92 L455.50,162.00 L456.00,162.05 L456.50,161.87 L457.00,161.77 L457.50,161.46 L458.00,160.33 L458.50,158.15 L459.00,156.49 L459.10,156.43 L459.50,157.12 L460.00,159.31 L460.50,161.28 L461.00,161.78 L461.50,161.52 L462.00,161.55 L462.50,161.55 L463.00,161.54 L463.50,161.85 L464.00,162.11 L464.50,161.88 L465.00,161.72 L465.50,161.61 L466.00,161.58 L466.50,161.67 L467.00,161.94 L467.50,161.79 L468.00,161.57 L468.50,161.53 L469.00,161.65 L469.50,161.15 L470.00,156.82 L470.50,151.73 L470.60,151.56 L471.00,154.43 L471.50,159.83 L472.00,161.64 L472.50,161.76 L473.00,161.77 L473.50,161.84 L474.00,162.08 L474.50,162.10 L475.00,161.77 L475.50,161.60 L476.00,161.48 L476.50,161.37 L477.00,161.50 L477.50,161.78 L478.00,161.73 L478.50,161.62 L479.00,161.24 L479.50,160.26 L480.00,159.49 L480.10,159.47 L480.50,159.80 L481.00,160.69 L481.50,161.33 L482.00,161.61 L482.50,161.72 L483.00,161.85 L483.50,161.79 L484.00,161.73 L484.50,161.81 L485.00,162.04 L485.50,162.35 L486.00,162.07 L486.50,161.32 L487.00,158.81 L487.50,156.53 L487.60,156.54 L488.00,158.32 L488.50,160.93 L489.00,161.66 L489.50,161.54 L490.00,161.86 L490.50,161.99 L491.00,161.83 L491.50,161.71 L492.00,161.62 L492.50,161.62 L493.00,161.58 L493.50,161.51 L494.00,161.69 L494.50,161.87 L495.00,162.05 L495.50,161.89 L496.00,161.72 L496.50,161.85 L497.00,162.05 L497.50,162.30 L498.00,161.76 L498.50,161.54 L499.00,161.79 L499.50,161.76 L500.00,161.66 L500.50,161.52 L501.00,161.47 L501.50,161.48 L502.00,161.65 L502.50,161.79 L503.00,161.86 L503.50,161.74 L504.00,161.63 L504.50,161.73 L505.00,161.84 L505.50,161.95 L506.00,161.88 L506.50,161.87 L507.00,161.97 L507.50,161.92 L508.00,161.81 L508.50,161.62 L509.00,161.21 L509.50,160.38 L510.00,158.89 L510.50,157.96 L510.60,157.92 L511.00,158.22 L511.50,159.46 L512.00,160.70 L512.50,161.16 L513.00,161.42 L513.50,161.61 L514.00,161.82 L514.50,161.93 L515.00,161.90 L515.50,162.02 L516.00,162.09 L516.50,161.82 L517.00,161.56 L517.50,161.30 L518.00,161.89 L518.50,162.19 L519.00,162.04 L519.50,161.71 L520.00,161.49 L520.50,161.91 L521.00,161.94 L521.50,161.68 L522.00,161.18 L522.50,160.39 L523.00,159.17 L523.50,157.83 L523.70,157.66 L524.00,158.07 L524.50,159.96 L525.00,161.19 L525.50,161.32 L526.00,161.54 L526.50,161.60 L527.00,161.60 L527.50,161.58 L528.00,161.55 L528.50,161.45 L529.00,161.53 L529.50,161.73 L530.00,161.88 L530.50,161.94 L531.00,161.85 L531.50,161.62 L532.00,161.39 L532.50,161.35 L533.00,161.47 L533.50,161.69 L534.00,161.54 L534.50,161.46 L535.00,161.47 L535.50,161.33 L536.00,161.30 L536.50,161.94 L537.00,162.08 L537.50,161.90 L538.00,161.57 L538.50,161.50 L539.00,161.83 L539.50,161.95 L540.00,161.88 L540.50,161.22 L541.00,161.15 L541.50,161.47 L542.00,161.50 L542.50,161.59 L543.00,161.77 L543.50,161.70 L544.00,161.58 L544.50,161.56 L545.00,161.56 L545.50,161.55 L546.00,161.71 L546.50,161.40 L547.00,160.50 L547.50,159.22 L547.80,158.75 L548.00,158.72 L548.50,159.46 L549.00,160.81 L549.50,162.06 L550.00,161.65 L550.50,161.34 L551.00,161.42 L551.50,161.52 L552.00,161.59 L552.50,161.50 L553.00,161.07 L553.50,160.34 L554.00,159.78 L554.50,160.07 L555.00,160.67 L555.50,161.34 L556.00,161.69 L556.50,161.68 L557.00,161.83 L557.50,162.12 L558.00,161.78 L558.50,161.49 L559.00,161.26 L559.50,161.25 L560.00,161.38 L560.50,161.82 L561.00,161.78 L561.50,161.43 L562.00,161.16 L562.50,161.10 L563.00,161.37 L563.50,161.50 L564.00,161.62 L564.50,161.83 L565.00,161.68 L565.50,161.30 L566.00,161.59 L566.50,161.77 L567.00,161.80 L567.50,161.59 L568.00,161.40 L568.50,161.49 L569.00,161.73 L569.50,162.07 L570.00,162.06 L570.50,161.99 L571.00,161.84 L571.50,161.74 L572.00,161.69 L572.50,161.83 L573.00,161.75 L573.50,161.53 L574.00,161.54 L574.50,161.49 L575.00,161.35 L575.50,161.45 L576.00,161.56 L576.50,161.55 L577.00,161.84 L577.50,162.34 L578.00,161.82 L578.50,161.61 L579.00,161.87 L579.50,161.92 L580.00,161.88 L580.50,161.61 L581.00,161.65 L581.50,161.89 L582.00,161.30 L582.50,161.11 L583.00,161.50 L583.50,161.69 L584.00,161.68 L584.50,161.11 L585.00,161.01 L585.50,161.23 L586.00,161.62 L586.50,161.76 L587.00,161.52 L587.50,161.36 L588.00,161.27 L588.50,161.39 L589.00,161.42 L589.50,161.38 L590.00,161.56 L590.50,161.52 L591.00,161.10 L591.50,160.39 L592.00,159.69 L592.40,159.45 L592.50,159.45 L593.00,159.86 L593.50,160.61 L594.00,161.37 L594.50,161.72 L595.00,161.64 L595.50,161.67 L596.00,161.69 L596.50,161.55 L597.00,161.38 L597.50,161.17 L598.00,161.28 L598.50,161.43 L599.00,161.67 L599.50,161.64 L600.00,161.53 L600.50,161.35 L601.00,161.20 L601.50,161.08 L602.00,161.38 L602.50,161.53 L603.00,161.45 L603.50,161.43 L604.00,161.43 L604.50,161.43 L605.00,161.50 L605.50,161.61 L606.00,161.61 L606.50,161.65 L607.00,161.77 L607.50,161.79 L608.00,161.80 L608.50,161.87 L609.00,161.84 L609.50,161.75 L610.00,161.55 L610.50,161.45 L611.00,161.49 L611.50,161.58 L612.00,161.63 L612.50,161.49 L613.00,161.52 L613.50,161.67 L614.00,161.77 L614.50,161.70 L615.00,161.36 L615.50,161.15 L616.00,161.12 L616.50,161.64 L617.00,161.72 L617.50,161.51 L618.00,161.64 L618.50,161.56 L619.00,161.21 L619.50,161.56 L620.00,161.96 L620.50,161.78 L621.00,161.62 L621.50,161.47 L622.00,161.43 L622.50,161.44 L623.00,161.52 L623.50,161.49 L624.00,161.45 L624.50,161.43 L625.00,161.33 L625.50,161.19 L626.00,161.60 L626.50,161.76 L627.00,161.53 L627.50,161.50 L628.00,161.52 L628.50,161.52 L629.00,161.26 L629.50,160.83 L630.00,161.34 L630.50,161.58 L631.00,161.40 L631.50,161.21 L632.00,160.74 L632.50,160.02 L633.00,159.51 L633.50,159.75 L634.00,160.85 L634.50,161.43 L635.00,161.31 L635.50,161.26 L636.00,161.23 L636.50,161.24 L637.00,161.35 L637.50,161.53 L638.00,161.63 L638.50,161.60 L639.00,161.36 L639.50,161.19 L640.00,161.15 L640.50,161.60 L641.00,161.55 L641.50,161.18 L642.00,161.57 L642.50,161.72 L643.00,161.50 L643.50,161.37 L644.00,161.28 L644.50,161.29 L645.00,161.41 L645.50,161.60 L646.00,161.68 L646.50,161.64 L647.00,161.45 L647.50,161.57 L648.00,161.77 L648.50,161.97 L649.00,161.81 L649.50,161.41 L650.00,161.24 L650.50,161.15 L651.00,161.17 L651.50,161.12 L652.00,161.10 L652.50,161.23 L653.00,161.27 L653.50,161.26 L654.00,161.15 L654.50,161.22 L655.00,161.54 L655.50,161.17 L656.00,160.77 L656.50,161.00 L657.00,161.44 L657.50,162.02 L658.00,161.85 L658.50,161.71 L659.00,161.62 L659.50,161.59 L660.00,161.63 L660.50,161.86 L661.00,161.82 L661.50,161.60 L662.00,161.52 L662.50,161.38 L663.00,161.15 L663.50,161.27 L664.00,161.40 L664.50,161.29 L665.00,161.24 L665.50,161.25 L666.00,161.25 L666.50,161.29 L667.00,161.41 L667.50,161.39 L668.00,161.39 L668.50,161.60 L669.00,161.45 L669.50,161.07 L670.00,161.27 L670.50,161.53 L671.00,161.89 L671.50,161.70 L672.00,161.49 L672.50,161.69 L673.00,161.77 L673.50,161.75 L674.00,161.78 L674.50,161.76 L675.00,161.66 L675.50,161.34 L676.00,161.08 L676.50,161.28 L677.00,161.34 L677.50,161.32 L678.00,161.12 L678.50,161.07 L679.00,161.26 L679.50,161.19 L680.00,161.06 L680.50,160.99 L681.00,161.16 L681.50,161.48 L682.00,161.44 L682.50,161.37 L683.00,161.25 L683.50,161.19 L684.00,161.17 L684.50,161.24 L685.00,161.28 L685.50,161.31 L686.00,161.31 L686.50,161.33 L687.00,161.39 L687.50,161.35 L688.00,161.32 L688.50,161.47 L689.00,161.54 L689.50,161.56 L690.00,161.53 L690.50,161.44 L691.00,161.26 L691.50,161.23 L692.00,161.27 L692.50,161.46 L693.00,161.46 L693.50,161.35 L694.00,161.38 L694.50,161.22 L695.00,160.79 L695.50,160.68 L696.00,160.76 L696.50,161.29 L697.00,161.50 L697.50,161.50 L698.00,161.68 L698.50,161.75 L699.00,161.63 L699.50,161.53 L700.00,161.45 L700.50,161.42" fill="none" stroke="#ff0000" stroke-width="1.15" stroke-linejoin="round"/>
<path d="M401.20,213.60 L401.70,215.92 L402.20,210.62 L402.70,213.74 L403.20,215.28 L403.70,215.81 L404.20,215.04 L404.70,216.20 L405.20,214.80 L405.70,215.23 L406.20,214.78 L406.70,213.12 L407.20,213.30 L407.70,214.73 L408.20,213.43 L408.70,215.65 L409.20,215.58 L409.70,216.11 L410.20,213.71 L410.70,215.32 L411.20,212.31 L411.70,212.27 L412.20,213.24 L412.70,213.34 L413.20,210.84 L413.70,210.53 L414.20,212.98 L414.70,211.31 L415.20,213.75 L415.70,212.58 L416.20,212.45 L416.70,212.49 L417.20,213.52 L417.70,212.38 L418.20,214.09 L418.70,212.24 L419.20,212.79 L419.70,212.38 L420.20,214.15 L420.70,213.61 L421.20,212.66 L421.70,216.40 L422.20,213.48 L422.70,213.63 L423.20,214.11 L423.70,215.64 L424.20,213.11 L424.70,214.01 L425.20,213.10 L425.70,210.99 L426.20,213.65 L426.70,213.77 L427.20,212.05 L427.70,212.20 L428.20,210.21 L428.70,210.06 L429.20,211.34 L429.70,212.49 L430.20,210.99 L430.70,211.81 L431.20,212.53 L431.70,211.31 L432.20,211.78 L432.70,212.74 L433.20,209.25 L433.70,211.61 L434.20,208.35 L434.70,211.52 L435.20,211.51 L435.70,210.86 L436.20,210.46 L436.70,212.01 L437.20,211.85 L437.70,212.76 L438.20,211.60 L438.70,213.24 L439.20,211.10 L439.70,211.84 L440.20,211.56 L440.70,213.46 L441.20,209.84 L441.70,211.02 L442.20,212.85 L442.70,210.41 L443.20,209.58 L443.70,211.37 L444.20,210.55 L444.70,211.85 L445.20,209.54 L445.70,210.82 L446.20,211.31 L446.70,211.66 L447.20,208.88 L447.70,211.93 L448.20,208.92 L448.70,208.19 L449.20,209.03 L449.70,210.55 L450.20,210.09 L450.70,211.19 L451.20,211.39 L451.70,211.01 L452.20,210.05 L452.70,212.40 L453.20,207.13 L453.70,207.49 L454.20,208.79 L454.70,207.62 L455.20,205.75 L455.70,207.77 L456.20,207.66 L456.70,205.37 L457.20,209.34 L457.70,209.72 L458.20,209.48 L458.70,207.13 L459.20,207.78 L459.70,205.56 L460.20,206.58 L460.70,204.84 L461.20,205.55 L461.70,203.97 L462.20,205.19 L462.70,204.43 L463.20,204.45 L463.70,200.39 L464.20,199.63 L464.70,201.91 L465.20,200.18 L465.70,200.72 L466.20,199.93 L466.70,199.11 L467.20,199.36 L467.70,198.23 L468.20,197.23 L468.70,193.73 L469.20,195.21 L469.70,191.85 L470.20,191.82 L470.70,189.58 L471.20,189.50 L471.70,186.85 L472.20,185.67 L472.70,183.64 L473.20,180.65 L473.70,178.89 L474.20,177.49 L474.70,175.95 L475.20,173.52 L475.70,176.34 L476.20,170.82 L476.70,170.32 L477.20,172.39 L477.70,167.14 L478.20,167.56 L478.70,168.66 L479.20,168.81 L479.70,168.52 L480.20,169.71 L480.70,173.39 L481.20,175.68 L481.70,174.20 L482.20,178.77 L482.70,179.44 L483.20,183.05 L483.70,183.61 L484.20,183.72 L484.70,185.51 L485.20,187.40 L485.70,190.25 L486.20,193.59 L486.70,191.45 L487.20,192.38 L487.70,194.19 L488.20,194.36 L488.70,196.19 L489.20,196.89 L489.70,197.41 L490.20,197.42 L490.70,199.61 L491.20,201.40 L491.70,201.19 L492.20,203.82 L492.70,203.93 L493.20,203.41 L493.70,206.57 L494.20,203.82 L494.70,207.26 L495.20,208.68 L495.70,206.61 L496.20,207.37 L496.70,209.24 L497.20,210.42 L497.70,209.76 L498.20,210.08 L498.70,211.49 L499.20,210.98 L499.70,209.46 L500.20,211.05 L500.70,211.57 L501.20,210.03 L501.70,212.71 L502.20,211.60 L502.70,213.77 L503.20,211.29 L503.70,212.14 L504.20,211.59 L504.70,215.15 L505.20,215.27 L505.70,215.65 L506.20,215.79 L506.70,215.21 L507.20,215.33 L507.70,212.22 L508.20,214.73 L508.70,213.67 L509.20,213.87 L509.70,212.70 L510.20,215.86 L510.70,214.39 L511.20,212.30 L511.70,214.77 L512.20,214.00 L512.70,212.75 L513.20,213.64 L513.70,212.99 L514.20,211.03 L514.70,211.94 L515.20,214.42 L515.70,214.16 L516.20,214.01 L516.70,212.14 L517.20,212.81 L517.70,213.60 L518.20,214.33 L518.70,212.37 L519.20,212.08 L519.70,214.82 L520.20,213.48 L520.70,212.92 L521.20,212.47 L521.70,212.58 L522.20,215.38 L522.70,214.61 L523.20,212.88 L523.70,211.83 L524.20,215.49 L524.70,215.36 L525.20,214.91 L525.70,214.45 L526.20,211.04 L526.70,211.79 L527.20,214.11 L527.70,213.04 L528.20,213.72 L528.70,212.74 L529.20,212.58 L529.70,214.09 L530.20,212.90 L530.70,213.40 L531.20,213.72 L531.70,213.69 L532.20,214.85 L532.70,215.11 L533.20,211.69 L533.70,213.06 L534.20,212.59 L534.70,214.34 L535.20,212.06 L535.70,214.35 L536.20,214.22 L536.70,214.04 L537.20,212.07 L537.70,212.98 L538.20,211.87 L538.70,213.69 L539.20,214.35 L539.70,211.23 L540.20,212.06 L540.70,212.86 L541.20,212.37 L541.70,214.87 L542.20,212.79 L542.70,213.26 L543.20,211.52 L543.70,214.81 L544.20,213.05 L544.70,213.78 L545.20,212.90 L545.70,210.14 L546.20,210.79 L546.70,211.18 L547.20,213.37 L547.70,212.14 L548.20,213.31 L548.70,213.13 L549.20,213.08 L549.70,213.92 L550.20,212.99 L550.70,210.71 L551.20,211.91 L551.70,214.83 L552.20,211.41 L552.70,214.45 L553.20,214.81 L553.70,212.00 L554.20,213.17 L554.70,210.98 L555.20,213.70 L555.70,211.76 L556.20,211.09 L556.70,212.23 L557.20,212.15 L557.70,211.98 L558.20,212.96 L558.70,212.50 L559.20,211.88 L559.70,213.89 L560.20,215.73 L560.70,212.81 L561.20,211.87 L561.70,211.53 L562.20,213.53 L562.70,212.49 L563.20,212.85 L563.70,210.35 L564.20,211.45 L564.70,211.44 L565.20,214.09 L565.70,212.59 L566.20,209.84 L566.70,213.57 L567.20,214.40 L567.70,214.64 L568.20,209.53 L568.70,213.24 L569.20,214.08 L569.70,213.85 L570.20,212.81 L570.70,210.88 L571.20,212.61 L571.70,212.76 L572.20,213.91 L572.70,214.01 L573.20,212.92 L573.70,214.31 L574.20,211.95 L574.70,212.43 L575.20,213.29 L575.70,214.12 L576.20,213.07 L576.70,215.08 L577.20,214.13 L577.70,212.50 L578.20,213.86 L578.70,212.72 L579.20,212.70 L579.70,212.19 L580.20,215.79 L580.70,215.25 L581.20,212.18 L581.70,215.65 L582.20,215.48 L582.70,213.77 L583.20,214.80 L583.70,216.91 L584.20,214.41 L584.70,214.52 L585.20,215.34 L585.70,212.59 L586.20,212.25 L586.70,212.01 L587.20,213.62 L587.70,214.75 L588.20,212.53 L588.70,211.83 L589.20,213.76 L589.70,213.00 L590.20,214.19 L590.70,213.28 L591.20,213.22 L591.70,213.35 L592.20,213.51 L592.70,212.27 L593.20,212.07 L593.70,215.46 L594.20,217.35 L594.70,214.89 L595.20,211.46 L595.70,213.54 L596.20,214.99 L596.70,211.48 L597.20,212.90 L597.70,213.01 L598.20,212.38 L598.70,212.48 L599.20,214.80 L599.70,212.97 L600.20,213.25 L600.70,215.69 L601.20,212.48 L601.70,211.15 L602.20,214.36 L602.70,216.07 L603.20,213.82 L603.70,213.95 L604.20,211.95 L604.70,212.40 L605.20,215.40 L605.70,215.15 L606.20,214.31 L606.70,212.77 L607.20,212.09 L607.70,212.27 L608.20,212.11 L608.70,214.34 L609.20,212.59 L609.70,212.95 L610.20,214.44 L610.70,214.41 L611.20,213.63 L611.70,214.17 L612.20,213.57 L612.70,211.14 L613.20,213.47 L613.70,213.04 L614.20,213.12 L614.70,213.87 L615.20,212.86 L615.70,215.11 L616.20,213.36 L616.70,213.79 L617.20,214.00 L617.70,213.37 L618.20,214.40 L618.70,214.54 L619.20,214.39 L619.70,212.71 L620.20,212.46 L620.70,212.83 L621.20,213.59 L621.70,211.24 L622.20,212.52 L622.70,212.13 L623.20,212.73 L623.70,212.42 L624.20,214.59 L624.70,214.13 L625.20,214.77 L625.70,212.33 L626.20,212.59 L626.70,213.20 L627.20,215.65 L627.70,215.68 L628.20,212.80 L628.70,214.37 L629.20,216.27 L629.70,212.29 L630.20,213.35 L630.70,215.21 L631.20,214.49 L631.70,212.34 L632.20,215.49 L632.70,214.82 L633.20,214.46 L633.70,212.04 L634.20,213.39 L634.70,215.24 L635.20,214.21 L635.70,214.59 L636.20,213.26 L636.70,215.49 L637.20,213.29 L637.70,214.75 L638.20,214.00 L638.70,212.39 L639.20,215.46 L639.70,212.02 L640.20,212.67 L640.70,213.77 L641.20,211.84 L641.70,211.33 L642.20,213.45 L642.70,213.06 L643.20,213.25 L643.70,214.22 L644.20,216.42 L644.70,212.77 L645.20,215.63 L645.70,210.96 L646.20,203.91 L646.70,202.09 L647.20,210.36 L647.70,213.47 L648.20,214.70 L648.70,213.12 L649.20,214.54 L649.70,215.27 L650.20,213.44 L650.70,212.11 L651.20,212.90 L651.70,213.74 L652.20,214.47 L652.70,215.08 L653.20,212.95 L653.70,214.14 L654.20,213.77 L654.70,214.13 L655.20,215.47 L655.70,215.71 L656.20,213.48 L656.70,213.31 L657.20,213.21 L657.70,213.41 L658.20,213.54 L658.70,213.85 L659.20,213.42 L659.70,212.71 L660.20,212.58 L660.70,214.11 L661.20,217.09 L661.70,214.73 L662.20,214.84 L662.70,214.46 L663.20,213.82 L663.70,216.52 L664.20,213.62 L664.70,212.79 L665.20,212.46 L665.70,214.23 L666.20,212.75 L666.70,212.90 L667.20,212.90 L667.70,212.33 L668.20,214.18 L668.70,211.87 L669.20,216.82 L669.70,210.51 L670.20,212.21 L670.70,214.03 L671.20,214.47 L671.70,213.52 L672.20,214.30 L672.70,214.16 L673.20,214.09 L673.70,214.67 L674.20,214.23 L674.70,213.80 L675.20,213.75 L675.70,215.03 L676.20,213.68 L676.70,214.62 L677.20,215.88 L677.70,214.39 L678.20,215.41 L678.70,213.35 L679.20,214.23 L679.70,214.52 L680.20,214.17 L680.70,214.47 L681.20,215.62 L681.70,213.46 L682.20,213.01 L682.70,214.25 L683.20,212.01 L683.70,213.81 L684.20,215.31 L684.70,213.79 L685.20,214.48 L685.70,214.27 L686.20,215.29 L686.70,214.41 L687.20,214.03 L687.70,209.60 L688.20,213.10 L688.70,214.64 L689.20,213.56 L689.70,212.79 L690.20,214.85 L690.70,212.60 L691.20,213.27 L691.70,214.54 L692.20,213.03 L692.70,213.88 L693.20,213.63 L693.70,212.14 L694.20,212.97 L694.70,213.16 L695.20,212.80 L695.70,214.97 L696.20,213.56 L696.70,212.78 L697.20,211.83 L697.70,213.16 L698.20,215.19 L698.70,213.16 L699.20,214.48 L699.70,214.09 L700.20,212.87 L700.50,212.32" fill="none" stroke="#0a0a0a" stroke-width="1.3" stroke-linejoin="round"/>
<rect x="400.8" y="29.9" width="300.3" height="206.7" fill="none" stroke="#555" stroke-width="1.2"/>
<line x1="423.00" y1="236.6" x2="423.00" y2="240.4" stroke="#555" stroke-width="1.1"/>
<text x="416.59" y="252.30" font-size="11.5" textLength="12.41" lengthAdjust="spacingAndGlyphs" fill="#000" stroke="#000" stroke-width="0.22">10</text>
<line x1="478.50" y1="236.6" x2="478.50" y2="240.4" stroke="#555" stroke-width="1.1"/>
<text x="472.23" y="252.30" font-size="11.5" textLength="12.41" lengthAdjust="spacingAndGlyphs" fill="#000" stroke="#000" stroke-width="0.22">20</text>
<line x1="534.00" y1="236.6" x2="534.00" y2="240.4" stroke="#555" stroke-width="1.1"/>
<text x="527.80" y="252.30" font-size="11.5" textLength="12.41" lengthAdjust="spacingAndGlyphs" fill="#000" stroke="#000" stroke-width="0.22">30</text>
<line x1="589.50" y1="236.6" x2="589.50" y2="240.4" stroke="#555" stroke-width="1.1"/>
<text x="583.39" y="252.30" font-size="11.5" textLength="12.41" lengthAdjust="spacingAndGlyphs" fill="#000" stroke="#000" stroke-width="0.22">40</text>
<line x1="645.00" y1="236.6" x2="645.00" y2="240.4" stroke="#555" stroke-width="1.1"/>
<text x="638.79" y="252.30" font-size="11.5" textLength="12.41" lengthAdjust="spacingAndGlyphs" fill="#000" stroke="#000" stroke-width="0.22">50</text>
<line x1="700.50" y1="236.6" x2="700.50" y2="240.4" stroke="#555" stroke-width="1.1"/>
<text x="694.23" y="252.30" font-size="11.5" textLength="12.41" lengthAdjust="spacingAndGlyphs" fill="#000" stroke="#000" stroke-width="0.22">60</text>
<line x1="450.75" y1="236.6" x2="450.75" y2="238.9" stroke="#555" stroke-width="1.1"/>
<line x1="506.25" y1="236.6" x2="506.25" y2="238.9" stroke="#555" stroke-width="1.1"/>
<line x1="561.75" y1="236.6" x2="561.75" y2="238.9" stroke="#555" stroke-width="1.1"/>
<line x1="617.25" y1="236.6" x2="617.25" y2="238.9" stroke="#555" stroke-width="1.1"/>
<line x1="672.75" y1="236.6" x2="672.75" y2="238.9" stroke="#555" stroke-width="1.1"/>
<text x="508.33" y="271.80" font-size="11.8" textLength="84.77" lengthAdjust="spacingAndGlyphs" fill="#000" stroke="#000" stroke-width="0.0">2 Theta (degree)</text>
<text transform="rotate(-90)" x="-162.66" y="384.60" font-size="12.0" textLength="72.67" lengthAdjust="spacingAndGlyphs" fill="#000" stroke="#000" stroke-width="0.0">Intensity (a.u.)</text>
<text x="180.13" y="301.90" font-size="13.3" textLength="16.34" lengthAdjust="spacingAndGlyphs" fill="#000" stroke="#000" stroke-width="0.0">(c)</text>
<line x1="251.3" y1="293.4" x2="279.0" y2="293.4" stroke="#d9a21e" stroke-width="1.1"/>
<text x="281.57" y="297.20" font-size="12.0" textLength="24.96" lengthAdjust="spacingAndGlyphs" fill="#000" stroke="#000" stroke-width="0.0">HPA</text>
<line x1="332.4" y1="293.3" x2="359.4" y2="293.3" stroke="#b877e8" stroke-width="1.1"/>
<text x="362.81" y="297.20" font-size="12.0" textLength="44.27" lengthAdjust="spacingAndGlyphs" fill="#000" stroke="#000" stroke-width="0.0">MIL-101</text>
<line x1="414.2" y1="293.3" x2="441.4" y2="293.3" stroke="#3cab6c" stroke-width="1.1"/>
<text x="444.30" y="297.20" font-size="12.0" textLength="80.99" lengthAdjust="spacingAndGlyphs" fill="#000" stroke="#000" stroke-width="0.0">HPA@MIL-101</text>
<line x1="251.3" y1="308.6" x2="279.0" y2="308.6" stroke="#4a4a4a" stroke-width="1.1"/>
<text x="282.00" y="312.40" font-size="12.0" textLength="43.49" lengthAdjust="spacingAndGlyphs" fill="#000" stroke="#000" stroke-width="0.0">Catalyst</text>
<line x1="332.4" y1="308.7" x2="359.4" y2="308.7" stroke="#ee3a3a" stroke-width="1.1"/>
<text x="363.22" y="312.40" font-size="12.0" textLength="16.21" lengthAdjust="spacingAndGlyphs" fill="#000" stroke="#000" stroke-width="0.0">CS</text>
<line x1="414.2" y1="308.7" x2="441.4" y2="308.7" stroke="#2a78dc" stroke-width="1.1"/>
<text x="444.71" y="312.40" font-size="12.0" textLength="33.41" lengthAdjust="spacingAndGlyphs" fill="#000" stroke="#000" stroke-width="0.0">CDNS</text>
<path d="M207.70,349.20 L208.20,349.23 L208.70,349.27 L209.20,349.26 L209.70,349.26 L210.20,349.22 L210.70,349.17 L211.20,349.18 L211.70,349.19 L212.20,349.18 L212.70,349.17 L213.20,349.20 L213.70,349.23 L214.20,349.21 L214.70,349.20 L215.20,349.22 L215.70,349.24 L216.20,349.17 L216.70,349.11 L217.20,349.19 L217.70,349.28 L218.20,349.24 L218.70,349.20 L219.20,349.21 L219.70,349.23 L220.20,349.21 L220.70,349.19 L221.20,349.19 L221.70,349.18 L222.20,349.20 L222.70,349.22 L223.20,349.23 L223.70,349.24 L224.20,349.22 L224.70,349.19 L225.20,349.19 L225.70,349.19 L226.20,349.21 L226.70,349.23 L227.20,349.20 L227.70,349.16 L228.20,349.14 L228.70,349.12 L229.20,349.17 L229.70,349.22 L230.20,349.19 L230.70,349.17 L231.20,349.14 L231.70,349.10 L232.20,349.13 L232.70,349.16 L233.20,349.17 L233.70,349.18 L234.20,349.16 L234.70,349.14 L235.20,349.13 L235.70,349.13 L236.20,349.16 L236.70,349.20 L237.20,349.22 L237.70,349.24 L238.20,349.22 L238.70,349.19 L239.20,349.18 L239.70,349.16 L240.20,349.19 L240.70,349.22 L241.20,349.23 L241.70,349.28 L242.20,349.39 L242.70,349.57 L243.20,349.85 L243.70,350.17 L244.20,350.50 L244.70,350.84 L245.20,351.12 L245.70,351.44 L246.20,351.84 L246.70,352.29 L247.20,352.82 L247.70,353.38 L248.20,353.90 L248.70,354.41 L249.20,354.91 L249.70,355.36 L250.20,355.66 L250.60,355.85 L250.70,355.89 L251.20,356.15 L251.70,356.40 L252.20,356.62 L252.70,356.83 L253.20,357.01 L253.70,357.19 L254.20,357.42 L254.70,357.64 L255.20,357.81 L255.70,357.97 L256.20,358.08 L256.70,358.18 L257.20,358.35 L257.70,358.51 L258.20,358.59 L258.60,358.64 L258.70,358.66 L259.20,358.73 L259.70,358.80 L260.20,358.87 L260.70,358.93 L261.20,359.02 L261.70,359.10 L262.20,359.11 L262.70,359.11 L263.20,359.22 L263.70,359.33 L264.20,359.38 L264.70,359.44 L265.20,359.43 L265.70,359.42 L266.20,359.52 L266.70,359.61 L267.20,359.64 L267.70,359.66 L268.20,359.73 L268.70,359.78 L269.20,359.78 L269.70,359.78 L270.20,359.82 L270.70,359.85 L271.20,359.88 L271.70,359.91 L272.00,359.90 L272.20,359.89 L272.70,359.88 L273.20,359.93 L273.70,359.98 L274.20,359.97 L274.70,359.97 L275.20,360.00 L275.70,360.02 L276.20,360.01 L276.70,360.00 L277.20,360.05 L277.70,360.10 L278.20,360.10 L278.70,360.10 L279.20,360.09 L279.70,360.08 L280.20,360.11 L280.70,360.14 L281.20,360.16 L281.70,360.19 L282.20,360.21 L282.70,360.23 L283.20,360.15 L283.70,360.07 L284.20,360.14 L284.70,360.21 L285.20,360.20 L285.70,360.20 L286.20,360.19 L286.70,360.18 L287.20,360.16 L287.70,360.14 L288.20,360.20 L288.70,360.26 L289.20,360.20 L289.70,360.14 L290.20,360.18 L290.70,360.23 L291.20,360.25 L291.70,360.26 L292.20,360.18 L292.70,360.10 L293.20,360.12 L293.70,360.14 L294.20,360.10 L294.70,360.06 L295.20,360.08 L295.70,360.10 L296.20,360.11 L296.70,360.12 L297.20,360.11 L297.70,360.09 L298.20,359.97 L298.70,359.85 L299.20,359.85 L299.70,359.85 L300.20,359.85 L300.70,359.85 L301.20,359.84 L301.70,359.83 L302.20,359.76 L302.70,359.70 L303.20,359.64 L303.70,359.58 L304.20,359.57 L304.70,359.56 L305.20,359.52 L305.70,359.47 L306.20,359.44 L306.70,359.40 L307.20,359.35 L307.70,359.31 L308.20,359.30 L308.70,359.30 L309.20,359.27 L309.70,359.24 L310.20,359.20 L310.70,359.17 L311.20,359.14 L311.70,359.11 L312.20,359.06 L312.70,359.01 L313.20,359.02 L313.70,359.02 L314.20,359.04 L314.70,359.06 L315.20,359.01 L315.70,358.96 L316.20,358.91 L316.70,358.87 L317.20,358.92 L317.70,358.97 L318.20,358.94 L318.70,358.90 L319.20,358.93 L319.70,358.95 L320.20,358.88 L320.70,358.81 L321.20,358.78 L321.70,358.75 L322.20,358.71 L322.70,358.66 L323.20,358.71 L323.70,358.76 L324.20,358.77 L324.70,358.78 L325.20,358.67 L325.60,358.58 L325.70,358.55 L326.20,358.53 L326.70,358.50 L327.20,358.49 L327.70,358.48 L328.20,358.40 L328.70,358.31 L329.20,358.27 L329.70,358.23 L330.20,358.17 L330.70,358.12 L331.20,358.07 L331.70,358.02 L332.20,357.98 L332.70,357.94 L333.20,357.86 L333.70,357.77 L334.20,357.73 L334.70,357.69 L335.20,357.60 L335.70,357.51 L336.20,357.47 L336.70,357.43 L337.20,357.32 L337.70,357.21 L338.20,357.18 L338.70,357.15 L339.00,357.16 L339.20,357.17 L339.70,357.19 L340.20,357.11 L340.70,357.04 L341.20,357.03 L341.70,357.02 L342.20,356.98 L342.70,356.94 L343.20,356.92 L343.70,356.90 L344.20,356.85 L344.70,356.80 L345.20,356.77 L345.70,356.74 L346.20,356.68 L346.70,356.61 L347.20,356.56 L347.70,356.51 L348.20,356.48 L348.70,356.44 L349.20,356.41 L349.70,356.38 L350.20,356.33 L350.70,356.29 L351.20,356.27 L351.70,356.25 L352.20,356.23 L352.70,356.21 L353.20,356.19 L353.70,356.17 L354.20,356.12 L354.70,356.08 L355.20,356.01 L355.70,355.94 L356.20,355.96 L356.70,355.98 L357.20,355.96 L357.70,355.94 L358.20,355.94 L358.70,355.93 L359.20,355.90 L359.70,355.86 L360.20,355.81 L360.70,355.75 L361.20,355.73 L361.70,355.71 L362.20,355.75 L362.70,355.80 L363.20,355.75 L363.70,355.70 L364.20,355.71 L364.70,355.72 L365.20,355.72 L365.70,355.71 L365.80,355.69 L366.20,355.62 L366.70,355.53 L367.20,355.55 L367.70,355.57 L368.20,355.56 L368.70,355.55 L369.20,355.54 L369.70,355.53 L370.20,355.52 L370.70,355.51 L371.20,355.49 L371.70,355.47 L372.20,355.46 L372.70,355.45 L373.20,355.40 L373.70,355.35 L374.20,355.37 L374.70,355.40 L375.20,355.37 L375.70,355.35 L376.20,355.37 L376.70,355.38 L377.20,355.36 L377.70,355.33 L378.20,355.35 L378.70,355.37 L379.20,355.37 L379.70,355.37 L380.20,355.35 L380.70,355.33 L381.20,355.32 L381.70,355.31 L382.20,355.30 L382.70,355.29 L383.20,355.27 L383.70,355.25 L384.20,355.24 L384.70,355.24 L385.20,355.23 L385.70,355.21 L386.20,355.23 L386.70,355.24 L387.20,355.22 L387.70,355.20 L388.20,355.21 L388.70,355.21 L389.20,355.15 L389.70,355.10 L390.20,355.14 L390.70,355.19 L391.20,355.14 L391.70,355.08 L392.20,355.07 L392.60,355.06 L392.70,355.06 L393.20,355.06 L393.70,355.06 L394.20,355.04 L394.70,355.02 L395.20,355.03 L395.70,355.03 L396.20,355.00 L396.70,354.96 L397.20,354.94 L397.70,354.91 L398.20,354.90 L398.70,354.89 L399.20,354.93 L399.70,354.97 L400.20,354.92 L400.70,354.87 L401.20,354.83 L401.70,354.78 L402.20,354.79 L402.70,354.81 L403.20,354.75 L403.70,354.69 L404.20,354.76 L404.70,354.83 L405.20,354.73 L405.70,354.63 L406.20,354.66 L406.70,354.69 L407.20,354.68 L407.70,354.66 L408.20,354.59 L408.70,354.52 L409.20,354.55 L409.70,354.58 L410.20,354.57 L410.70,354.57 L411.20,354.54 L411.70,354.51 L412.20,354.49 L412.70,354.46 L413.20,354.46 L413.70,354.46 L414.20,354.42 L414.70,354.39 L415.20,354.37 L415.70,354.36 L416.20,354.33 L416.70,354.30 L416.80,354.30 L417.20,354.30 L417.70,354.30 L418.20,354.24 L418.70,354.18 L419.20,354.20 L419.70,354.22 L420.20,354.16 L420.70,354.11 L421.20,354.07 L421.70,354.03 L422.20,354.04 L422.70,354.05 L423.20,354.06 L423.70,354.06 L424.20,354.02 L424.70,353.97 L425.20,353.91 L425.70,353.85 L426.20,353.85 L426.70,353.85 L427.20,353.80 L427.70,353.74 L428.20,353.72 L428.70,353.70 L429.20,353.68 L429.70,353.66 L430.20,353.57 L430.70,353.49 L431.20,353.52 L431.70,353.56 L432.20,353.50 L432.70,353.45 L433.20,353.43 L433.70,353.42 L434.20,353.38 L434.70,353.34 L435.20,353.32 L435.70,353.29 L436.20,353.29 L436.70,353.29 L437.20,353.31 L437.70,353.34 L438.20,353.35 L438.70,353.35 L439.20,353.30 L439.70,353.24 L440.20,353.26 L440.70,353.28 L441.20,353.24 L441.70,353.20 L442.20,353.15 L442.70,353.11 L443.20,353.16 L443.60,353.20 L443.70,353.21 L444.20,353.22 L444.70,353.25 L445.20,353.26 L445.70,353.28 L446.20,353.35 L446.70,353.43 L447.20,353.51 L447.70,353.60 L448.20,353.64 L448.70,353.70 L449.00,353.75 L449.20,353.79 L449.70,353.97 L450.20,354.28 L450.70,354.67 L451.20,355.08 L451.70,355.53 L452.20,356.00 L452.70,356.47 L453.20,356.96 L453.70,357.41 L454.20,357.80 L454.30,357.87 L454.70,358.17 L455.20,358.51 L455.70,358.81 L456.20,359.06 L456.50,359.12 L456.70,359.11 L457.20,358.82 L457.70,358.29 L458.20,357.63 L458.70,356.95 L459.20,356.36 L459.70,355.95 L460.20,355.64 L460.70,355.35 L461.20,355.13 L461.70,354.94 L462.20,354.76 L462.70,354.59 L463.20,354.38 L463.70,354.17 L464.20,353.97 L464.70,353.78 L465.20,353.67 L465.70,353.55 L466.20,353.43 L466.70,353.32 L467.20,353.17 L467.70,353.02 L468.20,352.87 L468.70,352.73 L469.20,352.66 L469.70,352.60 L470.20,352.42 L470.70,352.24 L471.20,352.17 L471.70,352.11 L472.20,352.00 L472.70,351.89 L473.20,351.76 L473.70,351.64 L474.20,351.61 L474.70,351.58 L475.20,351.47 L475.70,351.36 L476.20,351.24 L476.70,351.12 L477.20,351.08 L477.70,351.04 L478.20,350.94 L478.70,350.84 L479.20,350.72 L479.70,350.61 L480.20,350.57 L480.70,350.52 L481.10,350.48 L481.20,350.47 L481.70,350.42 L482.20,350.36 L482.70,350.29 L483.20,350.20 L483.70,350.12 L484.20,350.04 L484.70,349.96 L485.20,349.90 L485.70,349.84 L486.20,349.75 L486.70,349.66 L487.20,349.63 L487.70,349.61 L488.20,349.52 L488.70,349.44 L489.20,349.39 L489.70,349.35 L490.20,349.32 L490.70,349.29 L491.20,349.22 L491.70,349.15 L491.80,349.15 L492.20,349.14 L492.70,349.13 L493.20,349.17 L493.70,349.20 L494.20,349.16 L494.70,349.11 L495.20,349.08 L495.70,349.05 L496.20,349.05 L496.70,349.06 L497.20,349.03 L497.70,349.00 L498.20,349.01 L498.70,349.02 L499.20,348.99 L499.70,348.97 L500.00,348.98 L500.20,349.00 L500.70,349.14 L501.20,349.30 L501.70,349.52 L502.20,349.89 L502.70,350.27 L503.20,350.49 L503.70,350.65 L504.20,350.74 L504.40,350.74 L504.70,350.71 L505.20,350.71 L505.70,350.69 L506.20,350.61 L506.70,350.52 L507.20,350.43 L507.70,350.35 L508.20,350.23 L508.70,350.13 L509.20,350.11 L509.70,350.12 L509.90,350.15 L510.20,350.25 L510.70,350.63 L511.20,351.02 L511.60,351.46 L511.70,351.63 L512.20,353.79 L512.70,356.93 L513.00,358.71 L513.20,360.03 L513.70,363.15 L513.80,363.29 L514.20,361.89 L514.70,358.55 L514.90,357.59 L515.20,356.59 L515.70,355.09 L516.20,353.85 L516.70,352.81 L517.20,352.00 L517.60,351.51 L517.70,351.41 L518.20,350.84 L518.70,350.32 L519.20,349.93 L519.70,349.66 L520.20,349.44 L520.40,349.40 L520.70,349.48 L521.20,350.17 L521.70,351.30 L522.00,352.15 L522.20,353.04 L522.70,357.00 L523.20,361.33 L523.30,362.04 L523.70,365.11 L524.20,368.37 L524.40,368.76 L524.70,368.51 L525.20,367.35 L525.70,365.85 L525.90,365.30 L526.20,364.48 L526.70,362.92 L527.20,361.37 L527.70,360.02 L528.10,359.23 L528.20,359.07 L528.70,358.32 L529.20,357.63 L529.70,357.04 L530.20,356.67 L530.70,356.52 L530.80,356.52 L531.20,356.61 L531.70,356.83 L532.20,357.03 L532.50,357.18 L532.70,357.38 L533.20,358.39 L533.70,359.69 L534.20,360.72 L534.40,360.85 L534.70,360.62 L535.20,359.34 L535.70,357.81 L535.80,357.56 L536.20,356.47 L536.70,354.97 L537.20,353.92 L537.40,353.80 L537.70,353.86 L538.20,354.26 L538.70,354.87 L539.20,355.52 L539.60,356.05 L539.70,356.19 L540.20,357.02 L540.70,358.05 L541.20,359.18 L541.70,360.36 L542.20,361.55 L542.40,362.00 L542.70,362.73 L543.20,364.12 L543.70,365.57 L544.20,366.92 L544.70,367.97 L545.10,368.45 L545.20,368.52 L545.70,368.85 L546.20,369.12 L546.70,369.33 L547.20,369.57 L547.70,369.78 L548.20,369.89 L548.40,369.93 L548.70,369.98 L549.20,370.09 L549.70,370.20 L550.20,370.29 L550.70,370.36 L551.20,370.45 L551.70,370.51 L552.20,370.55 L552.70,370.57 L552.80,370.56 L553.20,370.49 L553.70,370.36 L554.20,370.33 L554.70,370.27 L555.20,370.06 L555.70,369.85 L556.20,369.61 L556.70,369.38 L557.20,369.22 L557.70,369.04 L558.20,368.76 L558.70,368.45 L559.20,368.16 L559.70,367.90 L560.20,367.62 L560.70,367.41 L561.10,367.42 L561.20,367.43 L561.70,367.52 L562.20,367.61 L562.70,367.72 L563.20,367.86 L563.70,368.01 L564.20,368.14 L564.70,368.27 L565.20,368.37 L565.70,368.44 L566.00,368.43 L566.20,368.43 L566.70,368.41 L567.20,368.43 L567.70,368.44 L568.20,368.55 L568.70,368.66 L569.20,368.69 L569.70,368.70 L570.20,368.76 L570.70,368.80 L571.20,368.80 L571.70,368.78 L572.20,368.80 L572.60,368.81 L572.70,368.81 L573.20,368.72 L573.70,368.56 L574.20,368.44 L574.70,368.27 L575.20,368.01 L575.70,367.72 L576.20,367.46 L576.50,367.31" fill="none" stroke="#d6a010" stroke-width="1.15" stroke-linejoin="round"/>
<path d="M213.80,375.20 L214.30,375.23 L214.80,375.26 L215.30,375.25 L215.80,375.24 L216.30,375.24 L216.80,375.24 L217.30,375.27 L217.80,375.30 L218.30,375.21 L218.80,375.13 L219.30,375.15 L219.80,375.16 L220.30,375.14 L220.80,375.12 L221.30,375.16 L221.80,375.19 L222.30,375.23 L222.80,375.26 L223.30,375.23 L223.80,375.20 L224.30,375.21 L224.80,375.23 L225.30,375.16 L225.80,375.09 L226.30,375.15 L226.80,375.21 L227.30,375.18 L227.80,375.15 L228.30,375.23 L228.80,375.31 L229.30,375.28 L229.80,375.25 L230.30,375.26 L230.80,375.26 L231.30,375.23 L231.80,375.20 L232.30,375.22 L232.80,375.24 L233.30,375.24 L233.80,375.24 L234.30,375.21 L234.80,375.18 L235.30,375.17 L235.80,375.17 L236.30,375.18 L236.80,375.19 L237.20,375.18 L237.30,375.18 L237.80,375.19 L238.30,375.26 L238.80,375.35 L239.30,375.49 L239.80,375.65 L240.30,375.82 L240.80,376.01 L241.30,376.28 L241.80,376.57 L242.30,376.75 L242.80,376.95 L243.30,377.30 L243.80,377.65 L244.30,377.89 L244.80,378.14 L245.20,378.36 L245.30,378.42 L245.80,378.76 L246.30,379.13 L246.80,379.54 L247.30,380.06 L247.80,380.61 L248.30,381.14 L248.80,381.68 L249.30,382.23 L249.80,382.77 L250.30,383.26 L250.80,383.70 L251.30,384.15 L251.80,384.54 L251.90,384.62 L252.30,384.92 L252.80,385.29 L253.30,385.56 L253.80,385.83 L254.30,386.10 L254.80,386.36 L255.30,386.69 L255.80,387.01 L256.30,387.23 L256.80,387.44 L257.30,387.70 L257.80,387.93 L258.30,388.13 L258.80,388.31 L259.30,388.44 L259.80,388.55 L259.90,388.57 L260.30,388.63 L260.80,388.69 L261.30,388.84 L261.80,388.98 L262.30,389.10 L262.80,389.20 L263.30,389.25 L263.80,389.30 L264.30,389.40 L264.80,389.50 L265.00,389.53 L265.30,389.59 L265.80,389.69 L266.30,389.74 L266.80,389.77 L267.30,389.88 L267.80,389.97 L268.00,389.98 L268.30,389.96 L268.80,389.84 L269.30,389.60 L269.80,389.30 L270.30,388.99 L270.80,388.68 L271.00,388.57 L271.30,388.39 L271.80,388.04 L272.30,387.70 L272.80,387.34 L273.30,386.88 L273.80,386.45 L274.30,386.12 L274.70,385.90 L274.80,385.85 L275.30,385.64 L275.80,385.44 L276.30,385.19 L276.80,384.94 L277.30,384.73 L277.80,384.54 L278.30,384.38 L278.80,384.24 L279.30,384.12 L279.80,384.01 L280.30,383.86 L280.80,383.73 L281.30,383.53 L281.80,383.34 L282.30,383.20 L282.70,383.09 L282.80,383.06 L283.30,382.99 L283.80,382.91 L284.30,382.80 L284.80,382.69 L285.30,382.59 L285.80,382.48 L286.30,382.40 L286.80,382.32 L287.30,382.24 L287.80,382.16 L288.30,382.03 L288.80,381.91 L289.30,381.83 L289.80,381.75 L290.30,381.61 L290.80,381.47 L291.30,381.38 L291.80,381.30 L292.30,381.25 L292.80,381.21 L293.30,381.14 L293.40,381.13 L293.80,381.07 L294.30,380.99 L294.80,380.91 L295.30,380.82 L295.80,380.74 L296.30,380.66 L296.80,380.58 L297.30,380.50 L297.80,380.42 L298.30,380.26 L298.80,380.11 L299.30,380.06 L299.80,380.01 L300.30,379.98 L300.80,379.94 L301.30,379.87 L301.80,379.80 L302.30,379.67 L302.80,379.54 L303.30,379.56 L303.80,379.58 L304.30,379.47 L304.80,379.37 L305.30,379.32 L305.80,379.28 L306.30,379.24 L306.80,379.22 L307.30,379.19 L307.80,379.17 L308.30,379.06 L308.80,378.97 L309.30,379.01 L309.80,379.05 L310.30,378.99 L310.80,378.94 L311.30,378.89 L311.80,378.84 L312.30,378.83 L312.80,378.82 L313.30,378.74 L313.80,378.65 L314.30,378.68 L314.80,378.70 L315.30,378.70 L315.80,378.70 L316.30,378.65 L316.80,378.59 L317.30,378.57 L317.80,378.55 L318.30,378.53 L318.80,378.50 L319.30,378.47 L319.80,378.44 L320.20,378.43 L320.30,378.42 L320.80,378.41 L321.30,378.32 L321.80,378.23 L322.30,378.16 L322.80,378.08 L323.30,378.03 L323.80,377.98 L324.30,377.94 L324.80,377.90 L325.30,377.75 L325.80,377.59 L326.30,377.52 L326.80,377.46 L327.30,377.31 L327.80,377.16 L328.30,377.16 L328.80,377.17 L329.30,377.07 L329.80,376.97 L330.30,376.91 L330.80,376.86 L331.30,376.76 L331.80,376.66 L332.30,376.57 L332.80,376.50 L333.30,376.52 L333.60,376.53 L333.80,376.54 L334.30,376.51 L334.80,376.47 L335.30,376.40 L335.80,376.32 L336.30,376.27 L336.80,376.23 L337.30,376.26 L337.80,376.29 L338.30,376.25 L338.80,376.21 L339.30,376.27 L339.80,376.33 L340.30,376.21 L340.80,376.09 L341.30,376.07 L341.80,376.05 L342.30,376.05 L342.80,376.04 L343.30,375.97 L343.80,375.91 L344.30,375.91 L344.80,375.92 L345.30,375.98 L345.80,376.04 L346.30,375.97 L346.80,375.90 L347.30,375.87 L347.80,375.84 L348.30,375.81 L348.80,375.77 L349.30,375.82 L349.80,375.86 L350.30,375.85 L350.80,375.84 L351.30,375.81 L351.80,375.79 L352.30,375.76 L352.80,375.73 L353.30,375.74 L353.80,375.75 L354.30,375.74 L354.80,375.73 L355.10,375.70 L355.30,375.69 L355.80,375.64 L356.30,375.67 L356.80,375.70 L357.30,375.61 L357.80,375.52 L358.30,375.53 L358.80,375.55 L359.30,375.57 L359.80,375.59 L360.30,375.58 L360.80,375.58 L361.30,375.54 L361.80,375.50 L362.30,375.53 L362.80,375.57 L363.30,375.58 L363.80,375.60 L364.30,375.57 L364.80,375.54 L365.30,375.53 L365.80,375.51 L366.30,375.52 L366.80,375.53 L367.30,375.51 L367.80,375.49 L368.30,375.43 L368.80,375.38 L369.30,375.40 L369.80,375.42 L370.30,375.46 L370.80,375.49 L371.30,375.41 L371.80,375.33 L372.30,375.36 L372.80,375.39 L373.30,375.37 L373.80,375.35 L374.30,375.33 L374.80,375.31 L375.30,375.30 L375.80,375.29 L376.30,375.31 L376.80,375.34 L377.30,375.34 L377.80,375.34 L378.30,375.33 L378.80,375.33 L379.30,375.27 L379.80,375.21 L380.30,375.24 L380.80,375.27 L381.30,375.28 L381.80,375.30 L382.30,375.31 L382.80,375.32 L383.30,375.31 L383.80,375.30 L384.30,375.30 L384.80,375.30 L385.30,375.30 L385.80,375.31 L386.30,375.29 L386.80,375.28 L387.30,375.23 L387.80,375.18 L388.30,375.20 L388.80,375.22 L389.30,375.20 L389.80,375.17 L390.30,375.12 L390.80,375.07 L391.30,375.08 L391.80,375.10 L392.30,375.21 L392.60,375.28 L392.80,375.32 L393.30,375.23 L393.80,375.13 L394.30,375.09 L394.80,375.06 L395.30,375.10 L395.80,375.15 L396.30,375.21 L396.80,375.27 L397.30,375.23 L397.80,375.18 L398.30,375.19 L398.80,375.20 L399.30,375.18 L399.80,375.16 L400.30,375.16 L400.80,375.16 L401.30,375.20 L401.80,375.24 L402.30,375.23 L402.80,375.21 L403.30,375.18 L403.80,375.15 L404.30,375.18 L404.80,375.21 L405.30,375.21 L405.80,375.22 L406.30,375.18 L406.80,375.14 L407.30,375.15 L407.80,375.16 L408.30,375.16 L408.80,375.16 L409.30,375.13 L409.80,375.10 L410.30,375.15 L410.80,375.21 L411.30,375.16 L411.80,375.12 L412.30,375.11 L412.80,375.09 L413.30,375.06 L413.80,375.03 L414.30,375.04 L414.80,375.05 L415.30,375.13 L415.80,375.22 L416.30,375.13 L416.80,375.05 L417.30,375.10 L417.80,375.14 L418.30,375.12 L418.80,375.10 L419.30,375.12 L419.80,375.15 L420.30,375.15 L420.80,375.15 L421.30,375.11 L421.80,375.06 L422.30,375.08 L422.80,375.09 L423.30,375.10 L423.80,375.11 L424.30,375.11 L424.80,375.11 L425.30,375.11 L425.80,375.10 L426.30,375.09 L426.80,375.09 L427.30,375.11 L427.80,375.14 L428.30,375.16 L428.80,375.18 L429.30,375.16 L429.80,375.13 L430.30,375.10 L430.80,375.06 L431.30,375.09 L431.80,375.12 L432.30,375.11 L432.80,375.10 L433.30,375.12 L433.80,375.13 L434.30,375.17 L434.80,375.21 L435.00,375.19 L435.30,375.15 L435.80,375.09 L436.30,375.11 L436.80,375.13 L437.30,375.13 L437.80,375.12 L438.30,375.17 L438.80,375.22 L439.30,375.25 L439.60,375.27 L439.80,375.29 L440.30,375.45 L440.80,375.67 L441.30,375.82 L441.80,376.00 L442.30,376.19 L442.80,376.43 L443.30,376.82 L443.80,377.26 L444.30,377.54 L444.80,377.81 L445.10,378.06 L445.30,378.22 L445.80,378.59 L446.30,378.90 L446.80,379.22 L447.30,379.55 L447.80,379.93 L448.30,380.43 L448.80,381.06 L449.30,381.74 L449.80,382.38 L450.10,382.69 L450.30,382.87 L450.80,383.27 L451.30,383.67 L451.80,384.07 L452.30,384.37 L452.40,384.44 L452.80,384.73 L453.30,385.30 L453.80,385.89 L454.30,386.42 L454.70,386.81 L454.80,386.90 L455.30,387.38 L455.80,387.84 L456.30,388.10 L456.50,388.11 L456.80,388.09 L457.30,388.11 L457.80,388.11 L458.30,388.04 L458.80,387.95 L459.30,387.91 L459.80,387.82 L460.30,387.66 L460.80,387.45 L461.10,387.26 L461.30,387.09 L461.80,386.43 L462.30,385.55 L462.80,384.67 L463.00,384.40 L463.30,384.02 L463.80,383.35 L464.30,382.63 L464.80,382.04 L465.20,381.78 L465.30,381.74 L465.80,381.54 L466.30,381.40 L466.60,381.39 L466.80,381.68 L467.30,382.76 L467.80,380.80 L468.20,379.06 L468.30,378.88 L468.80,378.07 L469.30,377.51 L469.60,377.40 L469.80,377.41 L470.30,377.56 L470.80,377.84 L471.20,378.10 L471.30,378.18 L471.80,378.82 L472.30,379.79 L472.60,380.40 L472.80,380.83 L473.30,381.98 L473.80,383.12 L474.00,383.55 L474.30,384.10 L474.80,384.90 L475.30,385.56 L475.80,386.31 L476.30,387.33 L476.80,388.48 L477.30,389.51 L477.60,390.04 L477.80,390.38 L478.30,391.25 L478.80,391.82 L479.00,391.92 L479.30,391.88 L479.80,391.48 L480.30,390.73 L480.40,390.56 L480.80,389.13 L481.30,386.37 L481.70,384.60 L481.80,384.31 L482.30,382.83 L482.80,381.56 L483.30,380.69 L483.60,380.35 L483.80,380.19 L484.30,379.85 L484.80,379.57 L485.30,379.30 L485.80,379.08 L486.30,378.94 L486.80,378.83 L487.30,378.77 L487.80,378.72 L488.30,378.78 L488.80,378.84 L489.30,378.68 L489.80,378.51 L490.00,378.47 L490.30,378.39 L490.80,378.24 L491.30,378.09 L491.80,377.92 L492.30,377.75 L492.70,377.60 L492.80,377.57 L493.30,377.36 L493.80,377.12 L494.30,376.84 L494.80,376.60 L495.30,376.47 L495.50,376.46 L495.80,376.46 L496.30,376.46 L496.80,376.47 L497.30,376.53 L497.80,376.59 L498.30,376.64 L498.80,376.69 L499.30,376.74 L499.80,376.79 L500.30,376.97 L500.80,377.14 L501.30,377.11 L501.80,377.08 L502.30,377.15 L502.80,377.23 L503.30,377.22 L503.80,377.21 L504.30,377.24 L504.80,377.27 L505.30,377.28 L505.80,377.29 L506.30,377.26 L506.80,377.21 L507.30,377.21 L507.80,377.18 L508.30,377.11 L508.80,377.03 L509.30,376.94 L509.80,376.85 L510.30,376.73 L510.80,376.62 L511.30,376.54 L511.80,376.48 L511.90,376.46 L512.30,376.39 L512.80,376.30 L513.30,376.21 L513.80,376.13 L514.30,376.00 L514.80,375.88 L515.30,375.88 L515.80,375.89 L516.30,375.94 L516.40,375.95 L516.80,376.49 L517.30,377.56 L517.60,377.83 L517.80,377.63 L518.30,376.34 L518.70,375.65 L518.80,375.63 L519.30,375.48 L519.80,375.35 L520.30,375.25 L520.80,375.17 L521.30,375.19 L521.80,375.22 L522.30,375.14 L522.80,375.06 L523.30,375.07 L523.80,375.10 L524.30,375.07 L524.80,375.04 L525.30,375.01 L525.80,374.99 L526.30,374.93 L526.80,374.87 L527.30,374.94 L527.80,375.01 L528.30,374.96 L528.80,374.91 L528.90,374.91 L529.30,374.89 L529.80,374.88 L530.30,375.00 L530.80,375.12 L531.30,375.12 L531.80,375.13 L532.30,375.16 L532.80,375.20 L533.30,375.22 L533.80,375.24 L534.30,375.29 L534.50,375.30 L534.80,375.34 L535.30,375.45 L535.80,375.60 L536.30,375.76 L536.70,375.92 L536.80,375.97 L537.30,376.42 L537.80,376.97 L538.30,377.32 L538.40,377.33 L538.80,377.27 L539.30,376.93 L539.80,376.61 L540.10,376.62 L540.30,376.66 L540.80,376.76 L541.30,376.71 L541.80,376.67 L542.30,376.71 L542.40,376.72 L542.80,376.83 L543.30,377.10 L543.80,377.54 L544.30,378.04 L544.60,378.38 L544.80,378.79 L545.30,380.88 L545.80,382.73 L546.00,382.95 L546.30,382.21 L546.80,379.48 L547.10,378.42 L547.30,378.16 L547.80,377.61 L548.30,377.32 L548.60,377.27 L548.80,377.28 L549.30,377.38 L549.80,377.54 L550.30,377.66 L550.80,377.81 L551.30,378.08 L551.40,378.13 L551.80,378.35 L552.30,378.63 L552.80,378.94 L553.30,379.23 L553.70,379.48 L553.80,379.54 L554.30,379.91 L554.80,380.34 L555.30,380.85 L555.80,381.32 L556.30,381.73 L556.50,381.86 L556.80,382.03 L557.30,382.25 L557.80,382.45 L558.30,382.58 L558.80,382.65 L559.30,382.67 L559.80,382.56 L560.30,382.35 L560.80,382.10 L561.30,381.88 L561.60,381.80 L561.80,381.77 L562.30,381.68 L562.80,381.61 L563.30,381.58 L563.80,381.58 L564.30,381.77 L564.80,382.16 L565.30,382.58 L565.80,382.90 L566.10,382.90 L566.30,382.85 L566.80,382.75 L567.30,382.82 L567.80,382.87 L568.30,382.73" fill="none" stroke="#b877e8" stroke-width="1.15" stroke-linejoin="round"/>
<path d="M207.70,396.30 L208.20,396.21 L208.70,395.73 L209.20,396.24 L209.70,396.75 L210.20,396.73 L210.70,396.72 L211.20,396.94 L211.70,397.17 L211.80,397.17 L212.20,397.16 L212.70,397.16 L213.20,397.43 L213.70,397.70 L214.20,397.63 L214.70,397.57 L215.20,397.66 L215.70,397.77 L216.00,397.96 L216.20,398.10 L216.70,398.52 L217.20,398.84 L217.70,399.10 L218.20,399.22 L218.70,399.35 L219.20,399.58 L219.70,399.78 L220.20,400.06 L220.70,400.30 L221.20,400.40 L221.70,400.45 L221.90,400.40 L222.20,400.32 L222.70,400.15 L223.20,400.10 L223.70,400.04 L224.20,399.79 L224.70,399.53 L225.20,399.81 L225.30,399.86 L225.70,400.08 L226.20,399.75 L226.70,399.40 L227.20,399.39 L227.70,399.34 L227.80,399.27 L228.20,398.84 L228.70,398.07 L229.20,397.68 L229.50,397.66 L229.70,397.74 L230.20,397.87 L230.70,398.14 L231.20,398.40 L231.70,399.06 L232.20,400.38 L232.70,401.56 L232.90,401.72 L233.20,401.86 L233.70,402.01 L234.20,402.43 L234.70,402.36 L235.20,401.37 L235.70,400.37 L235.90,400.25 L236.20,400.13 L236.70,399.92 L237.20,399.62 L237.70,399.41 L238.20,399.16 L238.40,399.10 L238.70,399.08 L239.20,399.20 L239.70,399.43 L240.10,399.68 L240.20,399.77 L240.70,400.64 L241.00,400.95 L241.20,400.77 L241.70,399.28 L242.20,398.38 L242.70,399.59 L243.20,401.28 L243.50,401.70 L243.70,401.65 L244.20,401.12 L244.70,400.66 L244.80,400.62 L245.20,400.81 L245.70,401.50 L246.20,402.50 L246.50,402.86 L246.70,403.01 L247.20,402.90 L247.70,402.77 L248.20,402.94 L248.70,403.08 L249.00,403.07 L249.20,403.05 L249.70,402.93 L250.20,402.96 L250.70,403.00 L251.10,402.92 L251.20,402.92 L251.70,403.29 L252.20,403.86 L252.40,403.98 L252.70,404.08 L253.20,404.18 L253.70,404.24 L254.20,404.22 L254.70,404.20 L255.20,404.38 L255.70,404.56 L255.80,404.60 L256.20,404.74 L256.70,404.93 L257.20,404.96 L257.70,405.02 L258.20,405.23 L258.70,405.43 L259.20,405.56 L259.70,405.69 L260.00,405.82 L260.20,405.91 L260.70,406.15 L261.20,406.36 L261.70,406.58 L262.20,406.81 L262.70,407.03 L263.20,407.18 L263.70,407.28 L264.20,407.35 L264.70,407.39 L265.20,407.33 L265.70,407.26 L266.20,407.25 L266.70,407.23 L267.20,407.21 L267.70,407.18 L268.20,407.19 L268.70,407.19 L269.20,407.13 L269.70,407.07 L270.20,407.03 L270.70,407.00 L271.20,407.01 L271.70,407.01 L272.20,406.99 L272.70,406.96 L273.20,406.91 L273.70,406.84 L274.20,406.70 L274.70,406.54 L275.20,406.52 L275.70,406.49 L276.20,406.41 L276.70,406.32 L277.20,406.23 L277.70,406.13 L278.20,406.07 L278.70,406.00 L279.20,405.97 L279.70,405.94 L280.20,405.80 L280.70,405.66 L281.20,405.57 L281.70,405.49 L282.20,405.46 L282.70,405.45 L283.20,405.38 L283.70,405.32 L284.00,405.30 L284.20,405.29 L284.70,405.27 L285.20,405.22 L285.70,405.17 L286.20,405.16 L286.70,405.15 L287.20,405.14 L287.70,405.13 L288.20,405.04 L288.70,404.95 L289.20,404.94 L289.70,404.93 L290.20,404.98 L290.70,405.04 L291.20,405.02 L291.70,405.00 L292.20,404.95 L292.70,404.90 L293.20,404.88 L293.70,404.85 L294.20,404.87 L294.70,404.89 L295.20,404.86 L295.30,404.86 L295.70,404.83 L296.20,404.86 L296.70,404.88 L297.20,404.94 L297.70,404.99 L298.20,404.95 L298.70,404.91 L299.20,404.94 L299.70,404.96 L300.20,404.93 L300.70,404.89 L301.20,404.90 L301.70,404.92 L302.20,404.95 L302.70,404.98 L303.20,404.90 L303.70,404.83 L304.20,404.85 L304.70,404.88 L305.20,404.89 L305.70,404.89 L306.20,404.90 L306.60,404.91 L306.70,404.92 L307.20,404.95 L307.70,405.00 L308.20,404.99 L308.70,404.98 L309.20,404.94 L309.70,404.91 L310.20,404.98 L310.70,405.04 L311.20,405.07 L311.70,405.09 L312.20,405.14 L312.70,405.19 L313.20,405.32 L313.30,405.35 L313.70,405.49 L314.20,405.58 L314.70,405.73 L315.20,406.04 L315.70,406.36 L316.20,406.61 L316.70,406.81 L317.20,407.02 L317.70,407.14 L317.80,407.14 L318.20,407.10 L318.70,406.96 L319.20,406.76 L319.70,406.50 L320.20,406.20 L320.70,405.88 L321.20,405.59 L321.70,405.32 L322.20,405.00 L322.40,404.88 L322.70,404.71 L323.20,404.50 L323.70,404.28 L324.20,404.04 L324.70,403.80 L325.20,403.65 L325.70,403.49 L326.20,403.23 L326.70,402.96 L327.20,402.73 L327.70,402.50 L328.20,402.31 L328.70,402.13 L329.20,402.02 L329.70,401.91 L330.20,401.66 L330.70,401.42 L331.20,401.28 L331.40,401.23 L331.70,401.16 L332.20,400.99 L332.70,400.83 L333.20,400.67 L333.70,400.51 L334.20,400.35 L334.70,400.19 L335.20,400.07 L335.70,399.95 L336.20,399.82 L336.70,399.70 L337.20,399.53 L337.70,399.37 L338.20,399.39 L338.70,399.43 L339.20,399.29 L339.70,399.16 L340.20,399.06 L340.40,399.02 L340.70,398.96 L341.20,398.89 L341.70,398.81 L342.20,398.73 L342.70,398.65 L343.20,398.64 L343.70,398.63 L344.20,398.55 L344.70,398.46 L345.20,398.43 L345.70,398.40 L346.20,398.30 L346.70,398.20 L347.20,398.20 L347.70,398.21 L348.20,398.21 L348.70,398.22 L349.20,398.12 L349.70,398.02 L350.20,398.01 L350.70,398.01 L351.20,397.95 L351.70,397.90 L352.20,397.90 L352.70,397.90 L353.20,397.87 L353.70,397.85 L354.20,397.79 L354.70,397.74 L355.20,397.70 L355.70,397.66 L356.20,397.66 L356.70,397.66 L357.20,397.63 L357.70,397.60 L358.20,397.56 L358.70,397.52 L359.20,397.53 L359.70,397.54 L360.20,397.53 L360.70,397.51 L361.20,397.45 L361.70,397.40 L362.20,397.40 L362.70,397.40 L363.00,397.44 L363.20,397.47 L363.70,397.54 L364.20,397.46 L364.70,397.39 L365.20,397.35 L365.70,397.31 L366.20,397.36 L366.70,397.41 L367.20,397.31 L367.70,397.21 L368.20,397.14 L368.70,397.07 L369.20,397.07 L369.70,397.07 L370.20,397.06 L370.70,397.05 L371.20,397.09 L371.70,397.12 L372.20,397.12 L372.70,397.13 L373.20,397.02 L373.70,396.92 L374.20,397.00 L374.70,397.07 L375.20,396.99 L375.70,396.91 L376.20,396.94 L376.70,396.97 L377.20,396.96 L377.70,396.95 L378.20,396.93 L378.70,396.92 L379.20,396.89 L379.70,396.87 L380.20,396.86 L380.70,396.85 L381.20,396.80 L381.70,396.75 L382.20,396.78 L382.70,396.80 L383.20,396.81 L383.70,396.82 L384.20,396.81 L384.70,396.79 L385.20,396.83 L385.70,396.86 L386.20,396.81 L386.70,396.76 L387.20,396.74 L387.70,396.72 L388.20,396.73 L388.70,396.75 L389.20,396.70 L389.70,396.65 L390.20,396.60 L390.70,396.55 L391.20,396.52 L391.70,396.48 L392.00,396.53 L392.20,396.57 L392.70,396.66 L393.20,396.63 L393.70,396.60 L394.20,396.60 L394.70,396.60 L395.20,396.56 L395.70,396.52 L396.20,396.54 L396.70,396.55 L397.20,396.58 L397.70,396.62 L398.20,396.57 L398.70,396.52 L399.20,396.47 L399.70,396.42 L400.20,396.43 L400.70,396.44 L401.20,396.49 L401.70,396.53 L402.20,396.45 L402.70,396.38 L403.20,396.33 L403.70,396.28 L404.20,396.28 L404.70,396.29 L405.20,396.31 L405.70,396.33 L406.20,396.38 L406.70,396.43 L407.20,396.41 L407.70,396.38 L408.20,396.35 L408.70,396.32 L409.20,396.30 L409.70,396.28 L410.20,396.31 L410.70,396.34 L411.20,396.33 L411.70,396.33 L412.20,396.31 L412.70,396.30 L413.20,396.30 L413.70,396.31 L414.20,396.29 L414.70,396.27 L415.20,396.34 L415.70,396.41 L416.20,396.29 L416.70,396.18 L417.20,396.24 L417.70,396.31 L418.20,396.28 L418.70,396.25 L419.20,396.29 L419.70,396.34 L420.00,396.32 L420.20,396.31 L420.70,396.29 L421.20,396.31 L421.70,396.34 L422.20,396.35 L422.70,396.37 L423.20,396.38 L423.70,396.38 L424.20,396.43 L424.70,396.49 L425.20,396.40 L425.70,396.30 L426.20,396.44 L426.70,396.59 L427.20,396.56 L427.70,396.52 L428.20,396.59 L428.70,396.66 L429.20,396.77 L429.70,396.89 L430.00,396.90 L430.20,396.90 L430.70,396.93 L431.20,397.07 L431.70,397.23 L432.20,397.01 L432.70,396.78 L433.20,397.00 L433.70,397.23 L434.10,397.47 L434.20,397.53 L434.70,397.85 L435.20,397.85 L435.70,397.87 L436.20,398.17 L436.70,398.49 L437.20,398.90 L437.30,398.99 L437.70,399.32 L438.20,399.46 L438.70,399.60 L439.20,399.65 L439.70,399.73 L440.20,400.20 L440.40,400.41 L440.70,400.75 L441.20,401.27 L441.70,401.90 L442.20,402.53 L442.70,403.22 L443.20,404.00 L443.50,404.49 L443.70,404.81 L444.20,405.68 L444.70,406.62 L445.20,407.51 L445.70,408.62 L446.10,410.01 L446.20,410.41 L446.70,413.07 L447.10,415.83 L447.20,416.86 L447.70,425.67 L448.10,430.31 L448.20,430.47 L448.70,431.01 L449.20,431.22 L449.70,431.59 L450.20,432.89 L450.70,433.90 L451.20,432.31 L451.70,428.84 L452.20,425.74 L452.30,425.40 L452.70,424.35 L453.20,423.33 L453.60,423.00 L453.70,423.03 L454.20,424.26 L454.70,426.50 L454.90,427.41 L455.20,429.47 L455.70,434.66 L456.20,439.56 L456.40,440.74 L456.70,441.97 L457.20,443.56 L457.50,443.90 L457.70,443.59 L458.20,440.80 L458.50,438.69 L458.70,437.13 L459.20,431.98 L459.70,426.59 L460.10,423.14 L460.20,422.54 L460.70,419.93 L461.20,418.40 L461.70,417.08 L462.10,415.68 L462.20,415.31 L462.70,413.23 L463.20,411.48 L463.70,410.17 L464.20,409.67 L464.70,409.86 L465.20,410.14 L465.70,410.58 L465.80,410.72 L466.20,412.79 L466.70,417.49 L467.20,420.62 L467.30,420.72 L467.70,418.21 L468.20,411.64 L468.60,408.16 L468.70,407.82 L469.20,406.86 L469.70,406.41 L469.90,406.46 L470.20,406.79 L470.70,407.87 L471.20,409.14 L471.50,410.03 L471.70,410.82 L472.20,413.79 L472.70,417.67 L473.00,420.00 L473.20,421.83 L473.70,427.33 L474.10,429.88 L474.20,429.94 L474.70,429.84 L475.20,428.66 L475.60,428.02 L475.70,428.00 L476.20,430.52 L476.70,434.81 L477.20,438.72 L477.70,442.83 L478.20,446.67 L478.50,447.53 L478.70,447.28 L479.20,444.75 L479.70,441.18 L479.80,440.54 L480.20,437.78 L480.70,433.68 L481.20,429.36 L481.30,428.49 L481.70,424.53 L482.20,418.70 L482.70,413.87 L482.90,412.64 L483.20,411.27 L483.70,409.42 L484.20,408.31 L484.40,407.99 L484.70,407.55 L485.20,406.74 L485.70,406.08 L486.20,405.65 L486.50,405.56 L486.70,405.58 L487.20,405.74 L487.70,406.01 L488.20,406.46 L488.60,406.67 L488.70,406.67 L489.20,405.71 L489.70,404.41 L490.10,403.86 L490.20,403.84 L490.70,403.92 L491.20,404.41 L491.70,404.89 L492.20,405.00 L492.70,404.94 L493.20,404.85 L493.70,404.71 L494.20,403.59 L494.70,401.52 L495.20,399.66 L495.70,398.51 L496.20,398.06 L496.70,397.68 L497.20,397.31 L497.70,397.06 L498.20,396.84 L498.40,396.80 L498.70,396.77 L499.20,396.81 L499.70,396.90 L500.20,397.12 L500.70,397.37 L501.10,397.56 L501.20,397.63 L501.70,398.29 L502.20,399.27 L502.70,400.11 L503.10,400.25 L503.20,400.18 L503.70,398.93 L504.20,397.55 L504.40,397.34 L504.70,397.56 L505.20,398.95 L505.70,400.55 L505.80,400.74 L506.20,401.48 L506.70,402.37 L507.10,403.18 L507.20,403.33 L507.70,404.10 L508.20,404.54 L508.70,404.82 L509.10,404.94 L509.20,404.92 L509.70,403.91 L510.20,402.29 L510.50,401.46 L510.70,400.98 L511.20,399.59 L511.70,398.73 L511.80,398.68 L512.20,399.03 L512.70,400.01 L513.10,400.53 L513.20,400.53 L513.70,399.93 L514.20,398.71 L514.70,397.62 L515.10,397.32 L515.20,397.34 L515.70,397.51 L516.20,397.80 L516.50,398.04 L516.70,398.75 L517.20,402.09 L517.40,402.62 L517.70,401.67 L518.20,398.56 L518.50,397.45 L518.70,397.25 L519.20,396.75 L519.70,396.41 L520.20,396.10 L520.50,396.00 L520.70,395.97 L521.20,396.08 L521.70,396.24 L522.20,396.23 L522.70,396.27 L523.20,396.57 L523.70,397.88 L524.20,400.22 L524.70,402.03 L524.90,402.15 L525.20,401.74 L525.70,400.13 L526.20,398.54 L526.50,397.90 L526.70,397.61 L527.20,396.83 L527.70,396.33 L527.90,396.33 L528.20,396.44 L528.70,396.73 L529.20,397.01 L529.70,397.38 L529.90,397.50 L530.20,398.04 L530.70,399.63 L531.20,400.67 L531.70,400.64 L532.20,400.27 L532.70,399.85 L533.20,399.88 L533.70,399.93 L534.20,399.70 L534.70,399.51 L535.20,399.51 L535.70,399.66 L536.20,399.65 L536.60,399.73 L536.70,399.85 L537.20,402.52 L537.70,405.60 L537.90,406.13 L538.20,406.44 L538.70,406.86 L539.20,407.03 L539.70,407.04 L539.90,407.11 L540.20,407.04 L540.70,406.45 L541.20,405.54 L541.30,405.36 L541.70,404.36 L542.20,402.65 L542.70,401.04 L543.20,400.10 L543.30,400.06 L543.70,401.10 L544.00,402.70 L544.20,404.70 L544.70,413.97 L545.20,421.22 L545.30,421.51 L545.70,418.32 L546.20,409.76 L546.60,404.69 L546.70,404.04 L547.20,401.02 L547.70,398.99 L548.00,398.60 L548.20,398.60 L548.70,398.73 L549.20,399.13 L549.70,399.67 L550.00,400.02 L550.20,400.67 L550.70,404.33 L551.20,407.42 L551.30,407.55 L551.70,406.71 L552.20,404.16 L552.70,402.64 L553.20,402.78 L553.70,402.91 L554.20,402.83 L554.70,402.75 L555.20,402.37 L555.70,401.73 L556.00,401.47 L556.20,401.47 L556.70,401.89 L557.20,402.85 L557.70,403.95 L558.00,404.61 L558.20,405.10 L558.70,406.71 L559.20,408.00 L559.40,408.17 L559.70,407.53 L560.20,404.71 L560.70,402.72 L561.20,402.41 L561.70,402.24 L562.00,402.18 L562.20,402.26 L562.70,403.19 L563.20,404.94 L563.70,407.13 L564.10,408.89 L564.20,409.39 L564.70,413.37 L565.20,417.96 L565.70,420.64 L565.80,420.74 L566.20,420.36 L566.70,419.03 L567.20,417.38 L567.40,416.83 L567.70,416.12 L568.20,415.18 L568.70,414.21 L569.20,412.81 L569.40,412.15 L569.70,410.90 L570.20,408.27 L570.70,405.37 L571.20,402.83 L571.40,402.08 L571.70,401.10 L572.20,399.66 L572.70,398.50 L573.20,397.68 L573.40,397.53 L573.70,397.39 L574.20,397.19 L574.70,397.03 L575.20,396.79 L575.70,396.58 L576.20,396.52 L576.50,396.51" fill="none" stroke="#3cab6c" stroke-width="1.15" stroke-linejoin="round"/>
<path d="M207.70,452.10 L208.20,452.12 L208.70,451.93 L209.20,451.91 L209.70,451.88 L210.20,451.74 L210.70,451.60 L211.20,452.05 L211.70,452.50 L212.20,452.80 L212.70,453.10 L213.20,452.98 L213.70,452.86 L214.20,452.99 L214.70,453.12 L215.20,453.26 L215.70,453.39 L216.20,453.17 L216.70,452.94 L217.20,453.53 L217.70,454.12 L218.20,453.64 L218.40,453.45 L218.70,453.17 L219.20,453.41 L219.70,453.65 L220.20,454.06 L220.70,454.47 L221.20,454.09 L221.70,453.71 L222.20,453.79 L222.70,453.87 L223.20,453.83 L223.70,453.78 L224.20,453.96 L224.70,454.13 L225.20,453.81 L225.70,453.49 L226.20,453.77 L226.70,454.04 L227.20,454.45 L227.70,454.85 L228.20,454.69 L228.70,454.53 L229.20,454.52 L229.70,454.52 L230.20,454.68 L230.50,454.78 L230.70,454.84 L231.20,454.92 L231.70,455.00 L232.20,455.04 L232.70,455.08 L233.20,455.22 L233.70,455.37 L234.20,455.12 L234.70,454.88 L235.20,455.31 L235.70,455.75 L236.20,455.66 L236.70,455.58 L237.20,455.91 L237.70,456.25 L238.20,456.26 L238.70,456.27 L239.20,456.27 L239.70,456.27 L239.80,456.33 L240.20,456.57 L240.70,456.90 L241.20,456.97 L241.70,457.06 L242.20,457.62 L242.70,458.19 L243.20,458.32 L243.70,458.47 L244.20,458.92 L244.70,459.38 L245.20,459.43 L245.70,459.48 L246.20,460.25 L246.70,461.01 L247.20,461.09 L247.70,461.16 L247.90,461.41 L248.20,461.78 L248.70,462.43 L249.20,462.79 L249.70,463.17 L250.20,463.35 L250.70,463.55 L251.20,464.26 L251.70,464.99 L252.20,465.37 L252.70,465.77 L253.20,466.41 L253.70,467.03 L254.20,467.64 L254.70,468.22 L255.20,468.57 L255.70,468.89 L255.90,469.06 L256.20,469.31 L256.70,469.73 L257.20,469.90 L257.70,470.08 L258.20,470.58 L258.70,471.06 L259.20,471.43 L259.70,471.79 L260.20,472.17 L260.70,472.54 L261.20,472.77 L261.70,473.01 L262.20,473.35 L262.70,473.68 L263.20,473.94 L263.70,474.19 L264.00,474.29 L264.20,474.35 L264.70,474.52 L265.20,474.79 L265.70,475.05 L266.20,475.36 L266.70,475.65 L267.20,475.81 L267.70,475.96 L268.20,476.15 L268.70,476.31 L269.20,476.52 L269.70,476.69 L270.20,476.73 L270.60,476.73 L270.70,476.72 L271.20,476.69 L271.70,476.64 L272.20,476.60 L272.70,476.56 L273.20,476.46 L273.70,476.36 L274.20,476.26 L274.70,476.15 L275.20,476.05 L275.70,475.94 L276.20,475.86 L276.70,475.77 L277.20,475.69 L277.30,475.67 L277.70,475.60 L278.20,475.40 L278.70,475.18 L279.20,475.04 L279.70,474.88 L280.20,474.69 L280.70,474.49 L281.20,474.24 L281.70,473.98 L282.20,473.81 L282.70,473.63 L283.20,473.41 L283.70,473.18 L284.20,472.85 L284.70,472.52 L285.20,472.31 L285.40,472.22 L285.70,472.09 L286.20,471.72 L286.70,471.32 L287.20,471.01 L287.70,470.68 L288.20,470.27 L288.70,469.84 L289.20,469.33 L289.70,468.82 L290.20,468.30 L290.70,467.77 L291.20,467.37 L291.70,466.97 L292.20,466.48 L292.70,465.99 L293.20,465.57 L293.40,465.40 L293.70,465.15 L294.20,464.76 L294.70,464.35 L295.20,463.96 L295.70,463.56 L296.20,463.05 L296.70,462.54 L297.20,462.08 L297.70,461.63 L298.20,461.13 L298.70,460.64 L299.20,460.28 L299.70,459.94 L300.20,459.55 L300.70,459.18 L301.20,458.94 L301.50,458.81 L301.70,458.73 L302.20,458.41 L302.70,458.08 L303.20,457.81 L303.70,457.55 L304.20,457.27 L304.70,457.00 L305.20,456.74 L305.70,456.49 L306.20,456.31 L306.70,456.15 L307.20,455.96 L307.70,455.79 L308.20,455.64 L308.70,455.53 L309.20,455.50 L309.50,455.50 L309.70,455.51 L310.20,455.55 L310.70,455.60 L311.20,455.69 L311.70,455.80 L312.20,455.84 L312.70,455.90 L313.20,456.08 L313.50,456.19 L313.70,456.29 L314.20,456.63 L314.70,457.17 L315.20,457.91 L315.70,458.65 L316.20,459.24 L316.70,459.79 L317.20,460.54 L317.70,461.26 L318.20,461.69 L318.70,461.90 L318.90,461.92 L319.20,461.88 L319.70,461.62 L320.20,461.25 L320.70,460.76 L321.20,460.09 L321.70,459.40 L322.20,458.80 L322.70,458.30 L322.90,458.17 L323.20,457.99 L323.70,457.70 L324.20,457.30 L324.70,456.90 L325.20,456.60 L325.70,456.30 L326.20,455.92 L326.70,455.55 L327.20,455.30 L327.70,455.06 L328.20,454.82 L328.70,454.61 L329.20,454.37 L329.70,454.16 L330.20,454.10 L330.70,454.06 L330.90,454.00 L331.20,453.92 L331.70,453.78 L332.20,453.73 L332.70,453.68 L333.20,453.65 L333.70,453.61 L334.20,453.60 L334.70,453.59 L335.20,453.50 L335.70,453.42 L336.20,453.38 L336.70,453.34 L337.20,453.33 L337.70,453.33 L338.20,453.34 L338.70,453.35 L339.20,453.26 L339.70,453.17 L340.20,453.11 L340.70,453.06 L341.20,453.08 L341.70,453.10 L342.20,453.11 L342.70,453.12 L343.20,453.05 L343.70,452.99 L344.20,453.00 L344.70,453.00 L345.20,452.91 L345.70,452.81 L346.20,452.86 L346.70,452.91 L347.00,452.90 L347.20,452.90 L347.70,452.88 L348.20,452.88 L348.70,452.87 L349.20,452.84 L349.70,452.81 L350.20,452.81 L350.70,452.80 L351.20,452.72 L351.70,452.63 L352.20,452.67 L352.70,452.71 L353.20,452.61 L353.70,452.50 L354.20,452.52 L354.70,452.54 L355.20,452.59 L355.70,452.64 L356.20,452.61 L356.70,452.58 L357.20,452.47 L357.70,452.35 L358.20,452.42 L358.70,452.50 L359.20,452.45 L359.70,452.39 L360.20,452.37 L360.70,452.34 L361.20,452.37 L361.70,452.39 L362.20,452.38 L362.70,452.36 L363.20,452.40 L363.70,452.44 L364.20,452.32 L364.70,452.21 L365.20,452.24 L365.70,452.27 L365.80,452.27 L366.20,452.27 L366.70,452.28 L367.20,452.21 L367.70,452.14 L368.20,452.25 L368.70,452.35 L369.20,452.37 L369.70,452.38 L370.20,452.29 L370.70,452.19 L371.20,452.23 L371.70,452.26 L372.20,452.23 L372.70,452.20 L373.20,452.21 L373.70,452.23 L374.20,452.19 L374.70,452.15 L375.20,452.20 L375.70,452.25 L376.20,452.17 L376.70,452.09 L377.20,452.18 L377.70,452.27 L378.20,452.23 L378.70,452.19 L379.20,452.26 L379.70,452.34 L380.20,452.18 L380.70,452.02 L381.20,452.08 L381.70,452.13 L382.20,452.08 L382.70,452.04 L383.20,452.08 L383.70,452.12 L384.20,452.14 L384.70,452.15 L385.20,452.10 L385.70,452.05 L386.20,452.03 L386.70,452.00 L387.20,451.99 L387.70,451.98 L388.20,452.05 L388.70,452.12 L389.20,452.16 L389.70,452.20 L390.20,452.19 L390.70,452.19 L391.20,452.15 L391.70,452.10 L392.20,452.07 L392.60,452.04 L392.70,452.03 L393.20,452.05 L393.70,452.07 L394.20,452.03 L394.70,451.99 L395.20,451.98 L395.70,451.98 L396.20,452.08 L396.70,452.18 L397.20,452.13 L397.70,452.08 L398.20,452.10 L398.70,452.12 L399.20,452.10 L399.70,452.08 L400.20,452.14 L400.70,452.20 L401.20,452.20 L401.70,452.21 L402.20,452.12 L402.70,452.04 L403.20,452.06 L403.70,452.07 L404.20,452.06 L404.70,452.05 L405.20,452.12 L405.70,452.20 L406.20,452.20 L406.70,452.19 L407.20,452.14 L407.70,452.08 L408.20,452.18 L408.70,452.27 L409.20,452.19 L409.70,452.10 L410.20,452.06 L410.70,452.01 L411.20,451.98 L411.70,451.95 L412.20,452.02 L412.70,452.09 L413.20,452.11 L413.70,452.12 L414.20,452.09 L414.70,452.06 L415.20,452.09 L415.70,452.13 L416.20,452.16 L416.70,452.19 L417.20,452.14 L417.70,452.10 L418.20,452.13 L418.70,452.16 L419.20,452.19 L419.70,452.22 L420.20,452.18 L420.70,452.14 L421.20,452.10 L421.70,452.05 L422.20,452.09 L422.70,452.15 L423.20,452.15 L423.70,452.16 L424.20,452.26 L424.70,452.37 L425.20,452.21 L425.70,452.04 L426.20,451.96 L426.70,451.87 L427.20,452.00 L427.70,452.15 L428.20,452.15 L428.70,452.16 L429.20,452.09 L429.70,452.02 L430.20,452.11 L430.70,452.22 L431.20,452.21 L431.70,452.22 L432.20,452.36 L432.70,452.51 L433.20,452.35 L433.70,452.18 L434.20,452.27 L434.70,452.37 L435.20,452.54 L435.70,452.72 L436.20,452.76 L436.70,452.80 L437.20,453.14 L437.70,453.50 L438.20,453.53 L438.70,453.55 L439.20,453.58 L439.70,453.61 L440.20,453.96 L440.70,454.31 L440.90,454.30 L441.20,454.27 L441.70,454.24 L442.20,454.45 L442.70,454.66 L443.20,454.77 L443.70,454.90 L444.20,454.91 L444.70,454.94 L445.20,455.11 L445.70,455.30 L446.20,455.51 L446.70,455.73 L447.20,455.77 L447.60,455.81 L447.70,455.82 L448.20,456.20 L448.70,456.66 L449.20,457.22 L449.70,457.80 L450.20,458.10 L450.70,458.36 L451.20,458.45 L451.70,458.45 L452.20,459.01 L452.70,459.38 L453.20,458.54 L453.70,457.54 L454.20,457.20 L454.70,456.81 L455.20,456.20 L455.70,455.66 L456.20,455.30 L456.70,455.13 L457.00,454.89 L457.20,454.76 L457.70,454.46 L458.20,454.63 L458.70,454.82 L459.20,454.86 L459.70,454.91 L460.20,455.20 L460.70,455.50 L461.20,455.49 L461.70,455.49 L462.20,455.60 L462.30,455.62 L462.70,455.72 L463.20,455.88 L463.70,456.06 L464.20,456.45 L464.70,456.86 L465.20,456.87 L465.70,456.89 L466.20,457.15 L466.70,457.41 L467.20,457.37 L467.70,457.34 L468.20,457.81 L468.70,458.28 L469.00,458.24 L469.20,458.22 L469.70,458.18 L470.20,458.79 L470.70,459.42 L471.20,459.62 L471.70,459.82 L472.20,459.98 L472.70,460.12 L473.20,460.36 L473.70,460.57 L474.20,460.93 L474.70,461.25 L475.20,461.38 L475.70,461.45 L476.20,461.34 L476.70,461.22 L477.20,461.23 L477.70,461.23 L478.20,461.19 L478.70,461.14 L479.20,461.05 L479.70,460.95 L480.20,460.94 L480.70,460.92 L481.10,460.92 L481.20,460.92 L481.70,460.89 L482.20,460.91 L482.70,460.91 L483.20,460.63 L483.70,460.35 L484.20,459.99 L484.70,459.63 L485.20,459.79 L485.70,459.97 L486.20,459.80 L486.50,459.71 L486.70,459.65 L487.20,459.37 L487.70,459.08 L488.20,459.21 L488.70,459.34 L489.20,459.05 L489.70,458.77 L490.20,458.70 L490.70,458.63 L491.20,458.62 L491.70,458.61 L491.80,458.68 L492.20,458.96 L492.70,459.32 L493.20,459.09 L493.70,458.87 L494.20,458.90 L494.70,458.93 L495.20,458.89 L495.70,458.85 L496.20,458.78 L496.70,458.71 L497.20,458.85 L497.70,459.10 L498.20,459.45 L498.70,459.97 L499.20,460.79 L499.70,461.71 L499.90,461.86 L500.20,462.26 L500.70,463.59 L501.20,466.15 L501.70,468.76 L502.00,469.90 L502.20,470.70 L502.70,472.96 L503.20,474.13 L503.30,474.12 L503.70,473.00 L504.20,470.78 L504.70,468.39 L505.20,467.18 L505.70,467.33 L506.20,467.42 L506.70,467.61 L507.20,467.81 L507.70,468.05 L507.90,468.19 L508.20,468.45 L508.70,469.04 L509.20,469.55 L509.70,470.15 L510.20,471.33 L510.60,472.25 L510.70,472.48 L511.20,473.36 L511.70,474.30 L512.20,475.17 L512.70,476.07 L513.20,477.24 L513.30,477.48 L513.70,478.55 L514.20,479.92 L514.70,481.31 L515.20,482.83 L515.70,483.82 L515.90,483.75 L516.20,483.39 L516.70,482.24 L517.20,480.94 L517.70,479.30 L518.20,477.37 L518.60,475.84 L518.70,475.45 L519.20,473.36 L519.70,470.78 L520.20,467.95 L520.70,465.31 L521.20,463.16 L521.30,462.83 L521.70,461.60 L522.20,460.12 L522.70,458.81 L523.20,457.87 L523.70,457.16 L524.00,456.74 L524.20,456.49 L524.70,455.88 L525.20,455.44 L525.70,455.04 L526.20,454.47 L526.70,453.95 L527.20,453.46 L527.70,453.02 L528.20,452.95 L528.70,452.95 L529.20,452.81 L529.30,452.79 L529.70,452.76 L530.20,453.03 L530.70,453.36 L531.20,453.44 L531.70,453.55 L532.20,453.83 L532.70,454.11 L533.20,454.35 L533.70,454.54 L534.20,454.53 L534.70,454.44 L535.20,454.46 L535.70,454.36 L536.20,454.18 L536.70,453.97 L537.20,453.50 L537.70,453.09 L538.20,452.92 L538.70,452.88 L539.20,452.98 L539.70,453.20 L540.20,453.42 L540.70,453.70 L541.20,454.14 L541.70,454.60 L542.20,455.08 L542.70,455.53 L543.20,455.77 L543.70,455.93 L544.10,456.07 L544.20,456.09 L544.70,456.20 L545.20,456.24 L545.70,456.28 L546.20,456.24 L546.70,456.19 L547.20,456.21 L547.70,456.22 L548.20,456.55 L548.70,456.89 L549.20,456.88 L549.40,456.88 L549.70,456.89 L550.20,456.81 L550.70,456.74 L551.20,456.90 L551.70,457.07 L552.20,457.15 L552.70,457.24 L553.20,457.31 L553.70,457.38 L554.20,457.35 L554.70,457.32 L554.80,457.32 L555.20,457.32 L555.70,457.32 L556.20,457.44 L556.70,457.56 L557.20,457.77 L557.70,457.98 L558.20,458.26 L558.70,458.55 L559.20,458.73 L559.70,458.93 L560.10,458.95 L560.20,458.97 L560.70,459.13 L561.20,459.57 L561.70,460.07 L562.20,460.70 L562.70,461.26 L563.20,461.62 L563.60,461.76 L563.70,461.76 L564.20,461.20 L564.70,460.32 L565.20,459.65 L565.70,458.92 L566.20,458.11 L566.70,457.51 L566.80,457.42 L567.20,457.10 L567.70,456.70 L568.20,456.36 L568.70,456.02 L569.20,455.69 L569.70,455.37 L570.20,455.10 L570.70,454.83 L571.20,454.42 L571.70,454.03 L572.20,453.93 L572.70,453.85 L573.20,453.72 L573.70,453.62 L574.20,453.47 L574.70,453.34 L575.20,453.25 L575.70,453.19 L576.20,453.11 L576.50,453.08" fill="none" stroke="#2a78dc" stroke-width="1.15" stroke-linejoin="round"/>
<path d="M207.70,488.70 L208.20,488.26 L208.70,488.53 L209.20,489.01 L209.70,489.49 L210.20,489.40 L210.70,489.31 L211.20,489.72 L211.70,490.12 L212.20,490.33 L212.70,490.53 L213.20,490.10 L213.70,489.67 L214.20,490.42 L214.70,491.16 L215.20,490.88 L215.70,490.60 L216.20,491.40 L216.70,492.21 L217.20,492.01 L217.70,491.82 L218.20,491.65 L218.70,491.48 L219.20,491.81 L219.70,492.14 L220.20,492.27 L220.70,492.40 L221.20,492.54 L221.70,492.66 L222.20,493.01 L222.70,493.34 L223.20,493.16 L223.70,492.97 L223.80,493.02 L224.20,493.23 L224.70,493.45 L225.20,493.09 L225.70,492.70 L226.20,492.34 L226.70,491.98 L227.20,491.48 L227.70,490.98 L228.20,490.84 L228.70,490.72 L229.20,491.09 L229.70,491.50 L230.20,491.72 L230.70,492.11 L231.20,492.69 L231.70,493.33 L231.80,493.32 L232.20,493.54 L232.70,494.28 L233.20,495.75 L233.70,496.75 L233.90,496.75 L234.20,496.58 L234.70,496.19 L235.20,496.01 L235.70,495.79 L236.20,495.03 L236.70,494.35 L237.20,495.01 L237.70,495.95 L238.20,496.03 L238.70,496.21 L239.20,496.84 L239.70,497.26 L239.80,497.29 L240.20,497.36 L240.70,497.39 L241.20,497.23 L241.70,497.08 L242.20,496.57 L242.50,496.31 L242.70,496.19 L243.20,497.38 L243.70,498.92 L244.20,499.72 L244.70,500.48 L245.20,501.11 L245.70,501.54 L246.20,501.68 L246.70,501.79 L247.20,501.91 L247.70,502.02 L248.20,502.34 L248.70,502.65 L249.20,503.33 L249.70,504.03 L250.20,504.48 L250.60,504.86 L250.70,504.96 L251.20,505.16 L251.70,505.37 L252.20,506.44 L252.70,507.48 L253.20,507.55 L253.70,507.66 L254.20,508.26 L254.70,508.85 L255.20,509.27 L255.70,509.68 L256.20,509.76 L256.70,509.87 L257.20,510.61 L257.30,510.75 L257.70,511.31 L258.20,511.64 L258.70,511.99 L259.20,512.22 L259.70,512.49 L260.20,513.13 L260.70,513.72 L261.20,514.13 L261.70,514.51 L262.20,514.82 L262.70,515.11 L263.20,515.35 L263.70,515.55 L264.00,515.54 L264.20,515.53 L264.70,515.49 L265.20,515.68 L265.70,515.85 L266.20,515.93 L266.70,516.00 L267.20,516.11 L267.70,516.21 L268.20,516.26 L268.70,516.30 L269.20,516.38 L269.30,516.39 L269.70,516.44 L270.20,516.39 L270.70,516.33 L271.20,516.19 L271.70,516.03 L272.20,516.06 L272.70,516.09 L273.20,516.05 L273.70,515.99 L274.20,515.81 L274.70,515.62 L275.20,515.40 L275.70,515.17 L276.20,515.11 L276.70,515.05 L277.20,514.97 L277.30,514.95 L277.70,514.89 L278.20,514.67 L278.70,514.44 L279.20,514.39 L279.70,514.32 L280.20,514.09 L280.70,513.85 L281.20,513.80 L281.70,513.75 L282.20,513.56 L282.70,513.37 L283.20,513.13 L283.70,512.90 L284.20,512.64 L284.70,512.39 L285.20,512.31 L285.40,512.28 L285.70,512.23 L286.20,512.00 L286.70,511.77 L287.20,511.60 L287.70,511.42 L288.20,511.36 L288.70,511.30 L289.20,511.00 L289.70,510.71 L290.20,510.50 L290.70,510.28 L291.20,510.24 L291.70,510.20 L292.20,510.08 L292.70,509.97 L293.20,509.78 L293.70,509.59 L294.20,509.35 L294.70,509.12 L295.20,509.02 L295.70,508.92 L296.20,508.58 L296.70,508.24 L297.20,508.22 L297.70,508.19 L298.20,507.99 L298.70,507.80 L298.80,507.73 L299.20,507.45 L299.70,507.09 L300.20,506.91 L300.70,506.73 L301.20,506.37 L301.70,506.01 L302.20,505.77 L302.70,505.52 L303.20,505.35 L303.70,505.18 L304.20,504.81 L304.70,504.43 L305.20,504.26 L305.70,504.09 L306.20,503.86 L306.70,503.64 L307.20,503.39 L307.70,503.15 L308.20,503.01 L308.70,502.88 L309.20,502.78 L309.70,502.69 L310.20,502.46 L310.70,502.26 L311.20,502.24 L311.70,502.24 L312.20,502.26 L312.70,502.37 L313.20,502.45 L313.70,502.63 L314.20,502.96 L314.70,503.29 L314.90,503.37 L315.20,503.52 L315.70,503.84 L316.20,504.52 L316.70,505.23 L317.20,505.80 L317.70,506.31 L318.20,506.66 L318.70,506.89 L318.90,507.00 L319.20,507.14 L319.70,507.36 L320.20,507.43 L320.70,507.49 L321.20,507.52 L321.70,507.54 L322.20,507.53 L322.70,507.50 L322.90,507.48 L323.20,507.43 L323.70,507.27 L324.20,507.15 L324.70,506.97 L325.20,506.70 L325.70,506.42 L326.10,506.14 L326.20,506.06 L326.70,505.57 L327.20,504.95 L327.70,504.25 L328.20,503.55 L328.70,502.89 L329.20,502.42 L329.60,502.18 L329.70,502.13 L330.20,501.71 L330.70,501.31 L331.20,501.17 L331.70,501.04 L332.20,500.87 L332.70,500.71 L333.20,500.57 L333.70,500.45 L334.20,500.30 L334.70,500.15 L335.20,499.96 L335.70,499.77 L336.20,499.61 L336.70,499.46 L337.20,499.29 L337.70,499.12 L338.20,499.13 L338.70,499.14 L339.00,499.03 L339.20,498.95 L339.70,498.77 L340.20,498.61 L340.70,498.44 L341.20,498.25 L341.70,498.05 L342.20,497.89 L342.70,497.74 L343.20,497.75 L343.70,497.77 L344.20,497.57 L344.70,497.37 L345.20,497.27 L345.70,497.18 L346.20,497.14 L346.70,497.10 L347.20,496.77 L347.70,496.44 L348.20,496.36 L348.70,496.28 L349.20,496.23 L349.70,496.17 L350.20,496.06 L350.70,495.94 L351.20,495.71 L351.70,495.47 L352.20,495.39 L352.40,495.36 L352.70,495.31 L353.20,495.13 L353.70,494.95 L354.20,494.80 L354.70,494.65 L355.20,494.55 L355.70,494.46 L356.20,494.28 L356.70,494.11 L357.20,494.01 L357.70,493.91 L358.20,493.71 L358.70,493.51 L359.20,493.41 L359.70,493.30 L360.20,493.00 L360.70,492.70 L361.20,492.62 L361.70,492.54 L362.20,492.28 L362.70,492.02 L363.20,491.86 L363.70,491.71 L364.20,491.60 L364.70,491.49 L365.20,491.50 L365.70,491.51 L365.80,491.48 L366.20,491.37 L366.70,491.22 L367.20,490.99 L367.70,490.76 L368.20,490.83 L368.70,490.90 L369.20,490.76 L369.70,490.62 L370.20,490.44 L370.70,490.26 L371.20,490.15 L371.70,490.05 L372.20,489.97 L372.70,489.89 L373.20,489.74 L373.70,489.59 L374.20,489.75 L374.70,489.91 L375.20,489.69 L375.70,489.48 L376.20,489.47 L376.50,489.47 L376.70,489.47 L377.20,489.45 L377.70,489.43 L378.20,489.40 L378.70,489.37 L379.20,489.34 L379.70,489.31 L380.20,489.38 L380.70,489.45 L381.20,489.34 L381.70,489.24 L382.20,489.24 L382.70,489.24 L383.20,489.25 L383.70,489.26 L384.20,489.35 L384.70,489.45 L385.20,489.33 L385.70,489.21 L386.20,489.21 L386.70,489.20 L387.20,489.28 L387.70,489.36 L388.20,489.26 L388.70,489.17 L389.20,489.22 L389.70,489.26 L390.20,489.34 L390.70,489.41 L391.20,489.38 L391.70,489.35 L392.20,489.33 L392.60,489.31 L392.70,489.30 L393.20,489.40 L393.70,489.49 L394.20,489.37 L394.70,489.25 L395.20,489.23 L395.70,489.22 L396.20,489.15 L396.70,489.08 L397.20,489.19 L397.70,489.30 L398.20,489.34 L398.70,489.38 L399.20,489.30 L399.70,489.21 L400.20,489.37 L400.70,489.53 L401.20,489.48 L401.70,489.43 L402.20,489.42 L402.70,489.41 L403.20,489.28 L403.70,489.15 L404.20,489.24 L404.70,489.34 L405.20,489.34 L405.70,489.34 L406.20,489.19 L406.70,489.04 L407.20,489.17 L407.70,489.30 L408.20,489.28 L408.70,489.27 L409.20,489.17 L409.70,489.08 L410.20,489.22 L410.70,489.36 L411.20,489.46 L411.70,489.56 L412.20,489.47 L412.70,489.39 L413.20,489.29 L413.70,489.19 L414.20,489.23 L414.70,489.27 L415.20,489.35 L415.70,489.44 L416.20,489.32 L416.70,489.19 L417.20,489.27 L417.70,489.34 L418.20,489.32 L418.70,489.30 L419.20,489.31 L419.70,489.32 L420.20,489.42 L420.70,489.53 L421.20,489.31 L421.70,489.06 L422.20,489.27 L422.70,489.50 L423.20,489.43 L423.70,489.35 L424.20,489.32 L424.70,489.28 L425.20,489.10 L425.70,488.91 L426.20,489.13 L426.70,489.38 L427.20,489.28 L427.50,489.23 L427.70,489.19 L428.20,488.85 L428.70,488.50 L429.20,488.76 L429.70,489.04 L430.20,489.13 L430.70,489.24 L431.20,489.36 L431.70,489.49 L432.20,489.67 L432.70,489.87 L433.20,489.95 L433.70,490.04 L434.20,490.64 L434.70,491.27 L435.20,491.32 L435.60,491.36 L435.70,491.37 L436.20,491.29 L436.70,491.21 L437.20,491.72 L437.70,492.26 L438.20,492.66 L438.70,493.09 L439.20,492.95 L439.70,492.80 L440.20,492.62 L440.70,492.45 L441.20,493.17 L441.70,493.90 L442.20,494.49 L442.30,494.60 L442.70,495.10 L443.20,494.90 L443.70,494.75 L444.20,495.50 L444.70,496.28 L445.20,497.07 L445.70,497.86 L446.20,498.48 L446.70,499.09 L447.20,499.52 L447.60,499.84 L447.70,499.92 L448.20,500.32 L448.70,500.78 L449.20,501.24 L449.70,501.70 L450.20,502.13 L450.70,502.50 L451.20,503.27 L451.70,503.91 L452.20,503.98 L452.70,503.91 L453.20,503.43 L453.70,502.87 L454.20,502.57 L454.70,502.25 L455.20,502.46 L455.60,502.63 L455.70,502.68 L456.20,502.30 L456.70,501.85 L457.20,500.98 L457.70,500.09 L458.20,499.40 L458.70,498.72 L459.20,498.74 L459.70,498.80 L460.20,498.66 L460.70,498.60 L461.00,498.53 L461.20,498.49 L461.70,498.41 L462.20,498.26 L462.70,498.12 L463.20,497.43 L463.70,496.76 L464.20,497.08 L464.70,497.42 L465.20,497.26 L465.70,497.12 L466.20,497.02 L466.40,496.98 L466.70,496.95 L467.20,497.92 L467.70,498.99 L468.20,498.61 L468.70,498.28 L469.20,498.69 L469.70,499.10 L470.20,499.27 L470.40,499.33 L470.70,499.41 L471.20,499.95 L471.70,500.50 L472.20,500.93 L472.70,501.34 L473.20,501.26 L473.70,501.16 L474.20,501.44 L474.40,501.54 L474.70,501.69 L475.20,501.78 L475.70,501.86 L476.20,501.90 L476.70,501.91 L477.20,502.25 L477.70,502.55 L478.20,502.73 L478.40,502.79 L478.70,502.84 L479.20,502.61 L479.70,502.27 L480.20,501.86 L480.70,501.37 L481.20,500.51 L481.70,499.63 L482.20,499.71 L482.70,499.82 L483.20,499.39 L483.70,499.03 L483.80,499.05 L484.20,499.13 L484.70,499.25 L485.20,498.51 L485.70,497.78 L486.20,497.41 L486.70,497.04 L487.20,496.71 L487.70,496.37 L487.80,496.39 L488.20,496.45 L488.70,496.49 L489.20,496.32 L489.70,496.13 L490.20,495.88 L490.70,495.64 L491.20,494.88 L491.70,494.17 L492.20,494.23 L492.70,494.35 L493.20,494.70 L493.70,495.13 L494.20,494.98 L494.70,494.89 L495.20,494.98 L495.70,495.11 L496.20,495.38 L496.70,495.67 L497.20,495.70 L497.70,495.88 L498.20,496.65 L498.70,497.60 L499.20,498.84 L499.70,500.11 L499.90,500.70 L500.20,501.66 L500.70,503.50 L501.20,505.03 L501.70,506.46 L502.20,507.28 L502.50,507.54 L502.70,507.62 L503.20,508.24 L503.70,508.76 L504.20,508.99 L504.70,509.18 L505.20,509.59 L505.70,510.02 L506.20,509.95 L506.60,509.96 L506.70,509.99 L507.20,510.91 L507.70,512.08 L508.20,513.28 L508.70,514.44 L509.20,514.82 L509.70,514.89 L510.00,515.13 L510.20,515.22 L510.70,515.36 L511.20,515.26 L511.70,515.09 L512.20,514.87 L512.70,514.63 L513.20,514.41 L513.30,514.37 L513.70,514.21 L514.20,514.02 L514.70,513.83 L515.20,513.69 L515.70,513.53 L516.20,513.35 L516.70,513.14 L517.20,512.65 L517.30,512.55 L517.70,512.11 L518.20,511.92 L518.70,511.64 L519.20,510.59 L519.70,509.51 L520.20,508.87 L520.70,508.23 L521.20,507.65 L521.30,507.53 L521.70,507.08 L522.20,506.25 L522.70,505.40 L523.20,504.60 L523.70,503.80 L524.20,503.14 L524.70,502.49 L525.20,502.20 L525.30,502.15 L525.70,501.94 L526.20,501.04 L526.70,500.15 L527.20,499.43 L527.70,498.73 L528.20,498.63 L528.70,498.54 L529.20,497.75 L529.30,497.59 L529.70,496.97 L530.20,496.38 L530.70,495.78 L531.20,495.04 L531.70,494.31 L532.20,493.96 L532.70,493.63 L533.20,493.03 L533.70,492.48 L534.20,492.20 L534.70,491.97 L535.20,491.62 L535.70,491.27 L536.20,490.95 L536.70,490.63 L537.20,490.43 L537.70,490.25 L538.20,489.86 L538.70,489.51 L539.20,489.44 L539.70,489.41 L540.10,489.32 L540.20,489.31 L540.70,489.22 L541.20,489.36 L541.70,489.51 L542.20,489.54 L542.70,489.56 L543.20,489.56 L543.70,489.56 L544.20,489.14 L544.70,488.72 L545.20,489.26 L545.40,489.48 L545.70,489.82 L546.20,489.56 L546.70,489.34 L547.20,489.44 L547.70,489.58 L548.20,489.74 L548.70,489.92 L549.20,490.12 L549.70,490.33 L550.20,490.76 L550.70,491.22 L550.80,491.24 L551.20,491.49 L551.70,492.20 L552.20,493.35 L552.70,494.54 L553.20,495.63 L553.70,496.36 L554.00,496.51 L554.20,496.53 L554.70,496.52 L555.20,496.07 L555.70,495.58 L556.20,495.39 L556.70,495.21 L557.20,494.98 L557.50,494.86 L557.70,494.79 L558.20,494.72 L558.70,494.66 L559.20,494.93 L559.70,495.21 L560.20,495.13 L560.70,495.05 L561.20,494.99 L561.70,494.92 L562.20,494.93 L562.70,494.92 L563.20,494.85 L563.70,494.77 L564.20,494.82 L564.70,494.85 L565.20,494.79 L565.70,494.70 L566.20,494.14 L566.70,493.57 L567.20,493.70 L567.70,493.84 L568.20,493.57 L568.70,493.31 L569.20,492.84 L569.50,492.57 L569.70,492.40 L570.20,492.38 L570.70,492.37 L571.20,492.12 L571.70,491.87 L572.20,491.52 L572.70,491.18 L573.20,491.29 L573.70,491.40 L574.20,491.01 L574.70,490.61 L575.20,490.72 L575.70,490.83 L576.20,490.54 L576.50,490.36" fill="none" stroke="#ee3a3a" stroke-width="1.15" stroke-linejoin="round"/>
<path d="M207.70,520.30 L208.20,520.48 L208.70,520.95 L209.20,521.23 L209.70,521.50 L210.20,521.66 L210.70,521.83 L211.20,522.20 L211.70,522.56 L212.20,522.18 L212.70,521.80 L213.20,522.20 L213.70,522.60 L214.20,522.54 L214.70,522.48 L215.20,522.38 L215.70,522.29 L216.20,522.65 L216.70,523.02 L217.20,523.44 L217.70,523.86 L218.20,523.82 L218.70,523.78 L219.20,524.18 L219.70,524.57 L220.20,525.10 L220.70,525.62 L221.20,525.66 L221.70,525.67 L222.20,525.80 L222.70,525.89 L223.20,525.90 L223.70,525.87 L223.80,525.85 L224.20,525.73 L224.70,525.53 L225.20,525.01 L225.70,524.45 L226.20,525.01 L226.70,525.56 L227.20,524.75 L227.70,523.95 L228.20,524.21 L228.70,524.49 L229.20,524.28 L229.70,524.11 L230.20,524.12 L230.50,524.14 L230.70,524.24 L231.20,524.96 L231.70,526.13 L232.20,527.19 L232.70,527.96 L233.10,528.48 L233.20,528.54 L233.70,528.80 L234.20,528.13 L234.70,527.42 L235.20,527.74 L235.70,528.04 L236.20,527.20 L236.70,526.37 L237.20,526.91 L237.70,527.49 L238.20,526.98 L238.50,526.72 L238.70,526.56 L239.20,526.96 L239.70,527.51 L240.20,528.25 L240.70,529.06 L241.20,528.72 L241.70,528.38 L242.20,529.39 L242.50,529.96 L242.70,530.33 L243.20,531.03 L243.70,531.74 L244.20,532.32 L244.70,532.90 L245.20,533.52 L245.70,534.15 L246.20,534.46 L246.70,534.77 L247.20,535.23 L247.70,535.67 L247.90,535.82 L248.20,536.03 L248.70,536.39 L249.20,536.89 L249.70,537.40 L250.20,537.82 L250.70,538.23 L251.20,538.92 L251.70,539.61 L252.20,539.84 L252.70,540.06 L253.20,540.59 L253.70,541.09 L254.20,541.65 L254.70,542.18 L255.20,542.40 L255.70,542.61 L255.90,542.61 L256.20,542.61 L256.70,542.64 L257.20,542.95 L257.70,543.25 L258.20,543.62 L258.70,543.96 L259.20,544.02 L259.70,544.10 L260.20,544.22 L260.70,544.35 L261.20,544.65 L261.70,544.92 L262.20,545.21 L262.70,545.47 L263.20,545.59 L263.70,545.69 L264.00,545.77 L264.20,545.82 L264.70,545.95 L265.20,546.16 L265.70,546.37 L266.20,546.40 L266.70,546.41 L267.20,546.73 L267.70,547.04 L268.20,546.97 L268.70,546.88 L269.20,546.88 L269.30,546.88 L269.70,546.85 L270.20,546.97 L270.70,547.06 L271.20,546.78 L271.70,546.49 L272.20,546.42 L272.70,546.33 L273.20,546.22 L273.70,546.10 L274.20,545.89 L274.70,545.68 L275.20,545.56 L275.70,545.44 L276.20,545.34 L276.70,545.25 L277.20,545.07 L277.30,545.04 L277.70,544.91 L278.20,544.75 L278.70,544.58 L279.20,544.49 L279.70,544.40 L280.20,544.29 L280.70,544.18 L281.20,543.99 L281.70,543.79 L282.20,543.39 L282.70,542.99 L283.20,543.03 L283.70,543.07 L284.20,542.85 L284.70,542.64 L285.20,542.44 L285.40,542.36 L285.70,542.25 L286.20,541.99 L286.70,541.73 L287.20,541.60 L287.70,541.46 L288.20,541.31 L288.70,541.15 L289.20,540.91 L289.70,540.67 L290.20,540.66 L290.70,540.66 L291.20,540.46 L291.70,540.27 L292.20,540.04 L292.70,539.81 L293.20,539.57 L293.70,539.34 L294.20,539.30 L294.70,539.26 L295.20,539.03 L295.70,538.80 L296.20,538.64 L296.70,538.47 L297.20,538.19 L297.70,537.90 L298.20,537.87 L298.70,537.84 L298.80,537.77 L299.20,537.47 L299.70,537.07 L300.20,536.94 L300.70,536.79 L301.20,536.24 L301.70,535.69 L302.20,535.52 L302.70,535.34 L303.20,534.99 L303.70,534.65 L304.20,534.16 L304.70,533.67 L305.20,533.48 L305.70,533.29 L306.20,532.97 L306.70,532.66 L307.20,532.40 L307.70,532.16 L308.20,531.99 L308.70,531.86 L309.20,531.69 L309.70,531.56 L310.20,531.58 L310.70,531.64 L310.80,531.64 L311.20,531.69 L311.70,531.86 L312.20,532.10 L312.70,532.39 L313.20,532.66 L313.50,532.82 L313.70,532.95 L314.20,533.54 L314.70,534.30 L315.20,535.24 L315.70,536.14 L316.20,536.63 L316.70,536.89 L317.00,536.97 L317.20,536.97 L317.70,536.86 L318.20,536.61 L318.70,536.30 L319.20,536.07 L319.70,535.87 L320.20,535.69 L320.70,535.56 L321.20,535.44 L321.70,535.33 L322.20,535.21 L322.70,535.09 L323.20,535.02 L323.70,534.94 L324.20,534.77 L324.70,534.58 L325.20,534.47 L325.60,534.37 L325.70,534.33 L326.20,533.93 L326.70,533.40 L327.20,532.95 L327.70,532.45 L328.20,531.89 L328.70,531.35 L329.20,530.68 L329.60,530.20 L329.70,530.08 L330.20,529.72 L330.70,529.35 L331.20,528.83 L331.70,528.34 L332.20,527.81 L332.70,527.34 L333.20,527.00 L333.60,526.79 L333.70,526.75 L334.20,526.57 L334.70,526.40 L335.20,526.27 L335.70,526.15 L336.20,526.09 L336.70,526.04 L337.20,525.91 L337.70,525.78 L338.20,525.72 L338.70,525.67 L339.20,525.63 L339.70,525.60 L340.20,525.33 L340.70,525.07 L341.20,524.88 L341.70,524.70 L342.20,524.65 L342.70,524.61 L343.20,524.49 L343.70,524.38 L344.20,524.39 L344.70,524.39 L345.20,524.32 L345.70,524.25 L346.20,524.28 L346.70,524.31 L347.00,524.16 L347.20,524.05 L347.70,523.79 L348.20,523.78 L348.70,523.77 L349.20,523.68 L349.70,523.59 L350.20,523.51 L350.70,523.43 L351.20,523.32 L351.70,523.20 L352.20,523.28 L352.70,523.37 L353.20,523.14 L353.70,522.91 L354.20,522.84 L354.70,522.77 L355.20,522.73 L355.70,522.69 L356.20,522.58 L356.70,522.48 L357.20,522.50 L357.70,522.52 L358.20,522.26 L358.70,522.00 L359.20,522.00 L359.70,521.99 L360.20,521.91 L360.70,521.83 L361.20,521.79 L361.70,521.76 L362.20,521.77 L362.70,521.78 L363.20,521.63 L363.70,521.49 L364.20,521.36 L364.70,521.23 L365.20,521.32 L365.70,521.41 L365.80,521.39 L366.20,521.31 L366.70,521.21 L367.20,521.28 L367.70,521.35 L368.20,521.30 L368.70,521.24 L369.20,521.32 L369.70,521.41 L370.20,521.28 L370.70,521.15 L371.20,521.04 L371.70,520.92 L372.20,520.97 L372.70,521.01 L373.20,521.03 L373.70,521.04 L374.20,520.95 L374.70,520.86 L375.20,520.83 L375.70,520.80 L376.20,520.76 L376.70,520.72 L377.20,520.68 L377.70,520.65 L378.20,520.59 L378.70,520.54 L379.20,520.65 L379.70,520.76 L380.20,520.69 L380.70,520.61 L381.20,520.48 L381.70,520.35 L382.20,520.48 L382.70,520.62 L383.20,520.54 L383.70,520.46 L384.20,520.45 L384.70,520.45 L385.20,520.43 L385.70,520.41 L386.20,520.47 L386.70,520.52 L387.20,520.29 L387.70,520.07 L388.20,520.20 L388.70,520.33 L389.20,520.36 L389.70,520.39 L390.20,520.34 L390.70,520.29 L391.20,520.19 L391.70,520.10 L392.20,520.12 L392.60,520.14 L392.70,520.14 L393.20,520.23 L393.70,520.33 L394.20,520.40 L394.70,520.48 L395.20,520.27 L395.70,520.06 L396.20,520.15 L396.70,520.24 L397.20,520.29 L397.70,520.35 L398.20,520.35 L398.70,520.35 L399.20,520.37 L399.70,520.40 L400.20,520.44 L400.70,520.48 L401.20,520.46 L401.70,520.44 L402.20,520.31 L402.70,520.17 L403.20,520.25 L403.70,520.33 L404.20,520.29 L404.70,520.24 L405.20,520.32 L405.70,520.39 L406.20,520.50 L406.70,520.60 L407.20,520.58 L407.70,520.56 L408.20,520.65 L408.70,520.73 L409.20,520.69 L409.70,520.64 L410.20,520.63 L410.70,520.62 L411.20,520.63 L411.70,520.63 L412.20,520.54 L412.70,520.44 L413.20,520.49 L413.70,520.54 L414.20,520.59 L414.70,520.65 L415.20,520.68 L415.70,520.70 L416.20,520.70 L416.70,520.71 L417.20,520.63 L417.70,520.54 L418.20,520.55 L418.70,520.56 L419.20,520.57 L419.70,520.58 L420.20,520.79 L420.70,521.01 L421.20,520.90 L421.70,520.78 L422.20,520.87 L422.70,520.98 L423.20,520.92 L423.70,520.86 L424.20,520.87 L424.70,520.87 L424.80,520.87 L425.20,520.89 L425.70,520.91 L426.20,520.93 L426.70,520.96 L427.20,521.07 L427.70,521.19 L428.20,521.36 L428.70,521.55 L429.20,521.33 L429.70,521.10 L430.20,521.40 L430.70,521.71 L431.20,521.77 L431.70,521.82 L432.20,521.91 L432.70,522.01 L432.90,522.14 L433.20,522.34 L433.70,522.72 L434.20,523.12 L434.70,523.55 L435.20,523.23 L435.70,522.90 L436.20,523.52 L436.70,524.17 L437.20,524.73 L437.70,525.30 L438.20,525.62 L438.70,525.95 L439.20,525.74 L439.60,525.55 L439.70,525.50 L440.20,526.42 L440.70,527.38 L441.20,527.61 L441.70,527.87 L442.20,528.36 L442.70,528.87 L443.20,529.70 L443.70,530.53 L444.20,530.63 L444.70,530.73 L445.20,531.58 L445.70,532.42 L446.20,533.09 L446.30,533.22 L446.70,533.78 L447.20,534.01 L447.70,534.30 L448.20,534.89 L448.70,535.47 L449.20,536.89 L449.70,538.25 L450.20,537.95 L450.70,537.53 L451.20,538.34 L451.60,538.86 L451.70,538.97 L452.20,538.32 L452.70,537.48 L453.20,537.25 L453.70,536.96 L454.20,536.30 L454.70,535.72 L455.20,535.61 L455.60,535.66 L455.70,535.70 L456.20,535.88 L456.70,536.28 L457.20,536.53 L457.70,536.89 L458.20,537.86 L458.70,538.84 L459.20,539.81 L459.70,540.69 L460.20,540.73 L460.70,540.58 L461.00,540.41 L461.20,540.21 L461.70,539.25 L462.20,538.76 L462.70,537.94 L463.20,536.04 L463.70,534.15 L464.20,533.01 L464.70,532.22 L465.00,531.68 L465.20,531.40 L465.70,530.70 L466.20,530.12 L466.70,529.58 L467.20,529.33 L467.70,529.15 L468.20,529.08 L468.70,529.11 L469.00,529.08 L469.20,529.11 L469.70,529.38 L470.20,529.49 L470.70,529.75 L471.20,530.46 L471.70,531.14 L472.20,531.76 L472.70,532.17 L473.10,532.76 L473.20,532.87 L473.70,533.23 L474.20,532.54 L474.70,531.78 L475.20,531.09 L475.70,530.64 L476.20,531.21 L476.70,532.35 L477.20,533.98 L477.70,535.51 L478.20,535.57 L478.40,535.39 L478.70,535.00 L479.20,535.04 L479.70,534.97 L480.20,534.93 L480.70,534.82 L481.20,534.36 L481.70,533.87 L482.20,533.36 L482.70,532.85 L483.20,532.01 L483.70,531.21 L483.80,531.18 L484.20,531.06 L484.70,530.86 L485.20,529.81 L485.70,528.74 L486.20,528.77 L486.70,528.80 L487.20,528.28 L487.70,527.80 L488.20,527.42 L488.70,527.09 L489.20,527.26 L489.70,527.50 L490.20,527.05 L490.50,526.82 L490.70,526.69 L491.20,526.70 L491.70,526.73 L492.20,527.00 L492.70,527.29 L493.20,527.64 L493.70,528.00 L494.20,527.44 L494.70,526.89 L495.20,527.40 L495.70,527.92 L495.80,527.90 L496.20,527.84 L496.70,527.89 L497.20,527.98 L497.70,528.15 L498.20,528.95 L498.70,529.80 L499.20,530.65 L499.70,531.50 L499.90,531.69 L500.20,532.00 L500.70,532.63 L501.20,533.45 L501.70,534.33 L502.20,535.38 L502.70,536.40 L503.20,537.20 L503.70,537.89 L503.90,538.16 L504.20,538.54 L504.70,539.16 L505.20,539.60 L505.70,540.02 L506.20,540.94 L506.70,541.82 L507.20,541.70 L507.70,541.55 L508.20,542.49 L508.70,543.36 L509.20,543.47 L509.70,543.56 L510.20,544.15 L510.70,544.72 L511.20,544.57 L511.70,544.39 L512.20,544.29 L512.70,544.12 L513.20,544.58 L513.70,544.89 L514.20,544.66 L514.70,544.33 L515.20,543.34 L515.70,542.30 L516.20,542.10 L516.70,541.86 L517.20,541.23 L517.30,541.10 L517.70,540.54 L518.20,539.51 L518.70,538.35 L519.20,537.53 L519.70,536.64 L520.20,535.24 L520.70,533.85 L521.20,533.00 L521.70,532.22 L522.20,531.29 L522.60,530.65 L522.70,530.50 L523.20,529.49 L523.70,528.49 L524.20,527.75 L524.70,527.05 L525.20,526.42 L525.70,525.83 L526.20,524.94 L526.70,524.10 L527.20,523.81 L527.70,523.60 L528.00,523.46 L528.20,523.37 L528.70,523.16 L529.20,523.20 L529.70,523.25 L530.20,522.81 L530.70,522.40 L531.20,522.01 L531.70,521.65 L532.20,521.29 L532.70,520.95 L533.20,521.01 L533.70,521.09 L534.20,520.99 L534.70,520.92 L535.20,520.71 L535.70,520.52 L536.20,520.73 L536.70,520.94 L537.20,520.85 L537.70,520.76 L538.20,520.97 L538.70,521.19 L539.20,520.88 L539.70,520.56 L540.20,521.38 L540.70,522.19 L541.20,522.01 L541.70,521.83 L542.20,521.85 L542.70,521.87 L543.20,522.03 L543.70,522.19 L544.20,522.13 L544.70,522.08 L545.20,522.41 L545.70,522.74 L546.20,523.10 L546.70,523.47 L547.20,523.48 L547.70,523.51 L548.10,523.60 L548.20,523.63 L548.70,524.00 L549.20,524.76 L549.70,525.67 L550.20,526.64 L550.70,527.57 L551.20,528.23 L551.70,528.64 L552.10,528.75 L552.20,528.74 L552.70,528.65 L553.20,528.61 L553.70,528.51 L554.20,528.34 L554.70,528.15 L555.20,527.82 L555.70,527.53 L556.10,527.52 L556.20,527.53 L556.70,527.56 L557.20,527.25 L557.70,526.95 L558.20,526.79 L558.70,526.63 L559.20,526.55 L559.70,526.48 L560.20,526.76 L560.70,527.05 L561.20,526.83 L561.70,526.61 L562.20,526.66 L562.70,526.72 L563.20,526.56 L563.70,526.40 L564.20,526.40 L564.70,526.40 L565.20,526.41 L565.70,526.42 L566.20,526.10 L566.70,525.78 L566.80,525.78 L567.20,525.80 L567.70,525.81 L568.20,526.02 L568.70,526.22 L569.20,526.17 L569.70,526.11 L570.20,525.71 L570.70,525.30 L571.20,525.16 L571.70,525.02 L572.20,524.74 L572.70,524.46 L573.20,524.22 L573.70,523.98 L574.20,524.09 L574.70,524.19 L575.20,524.07 L575.70,523.95 L576.20,523.65 L576.50,523.47" fill="none" stroke="#4a4a4a" stroke-width="1.15" stroke-linejoin="round"/>
<rect x="207.7" y="320.6" width="369.00000000000006" height="230.69999999999993" fill="none" stroke="#222" stroke-width="1.2"/>
<line x1="207.75" y1="551.3" x2="207.75" y2="555.6" stroke="#222" stroke-width="1.1"/>
<text x="193.28" y="569.30" font-size="12.6" textLength="29.15" lengthAdjust="spacingAndGlyphs" fill="#000" stroke="#000" stroke-width="0.22">4000</text>
<line x1="259.69" y1="551.3" x2="259.69" y2="555.6" stroke="#222" stroke-width="1.1"/>
<text x="245.11" y="569.30" font-size="12.6" textLength="29.15" lengthAdjust="spacingAndGlyphs" fill="#000" stroke="#000" stroke-width="0.22">3500</text>
<line x1="311.62" y1="551.3" x2="311.62" y2="555.6" stroke="#222" stroke-width="1.1"/>
<text x="297.05" y="569.30" font-size="12.6" textLength="29.15" lengthAdjust="spacingAndGlyphs" fill="#000" stroke="#000" stroke-width="0.22">3000</text>
<line x1="363.56" y1="551.3" x2="363.56" y2="555.6" stroke="#222" stroke-width="1.1"/>
<text x="348.90" y="569.30" font-size="12.6" textLength="29.15" lengthAdjust="spacingAndGlyphs" fill="#000" stroke="#000" stroke-width="0.22">2500</text>
<line x1="415.49" y1="551.3" x2="415.49" y2="555.6" stroke="#222" stroke-width="1.1"/>
<text x="400.84" y="569.30" font-size="12.6" textLength="29.15" lengthAdjust="spacingAndGlyphs" fill="#000" stroke="#000" stroke-width="0.22">2000</text>
<line x1="467.43" y1="551.3" x2="467.43" y2="555.6" stroke="#222" stroke-width="1.1"/>
<text x="452.60" y="569.30" font-size="12.6" textLength="29.15" lengthAdjust="spacingAndGlyphs" fill="#000" stroke="#000" stroke-width="0.22">1500</text>
<line x1="519.36" y1="551.3" x2="519.36" y2="555.6" stroke="#222" stroke-width="1.1"/>
<text x="504.54" y="569.30" font-size="12.6" textLength="29.15" lengthAdjust="spacingAndGlyphs" fill="#000" stroke="#000" stroke-width="0.22">1000</text>
<line x1="571.30" y1="551.3" x2="571.30" y2="555.6" stroke="#222" stroke-width="1.1"/>
<text x="560.35" y="569.30" font-size="12.6" textLength="21.86" lengthAdjust="spacingAndGlyphs" fill="#000" stroke="#000" stroke-width="0.22">500</text>
<line x1="233.72" y1="551.3" x2="233.72" y2="553.9" stroke="#222" stroke-width="1.1"/>
<line x1="285.65" y1="551.3" x2="285.65" y2="553.9" stroke="#222" stroke-width="1.1"/>
<line x1="337.59" y1="551.3" x2="337.59" y2="553.9" stroke="#222" stroke-width="1.1"/>
<line x1="389.52" y1="551.3" x2="389.52" y2="553.9" stroke="#222" stroke-width="1.1"/>
<line x1="441.46" y1="551.3" x2="441.46" y2="553.9" stroke="#222" stroke-width="1.1"/>
<line x1="493.39" y1="551.3" x2="493.39" y2="553.9" stroke="#222" stroke-width="1.1"/>
<line x1="545.33" y1="551.3" x2="545.33" y2="553.9" stroke="#222" stroke-width="1.1"/>
<text x="334.05" y="593.40" font-size="13.0" textLength="104.01" lengthAdjust="spacingAndGlyphs" fill="#000" stroke="#000" stroke-width="0.0">Wavenumber (cm</text>
<text x="437.51" y="587.80" font-size="8.6" textLength="8.96" lengthAdjust="spacingAndGlyphs" fill="#000" stroke="#000" stroke-width="0.0">−1</text>
<text x="446.92" y="593.40" font-size="13.0" textLength="5.38" lengthAdjust="spacingAndGlyphs" fill="#000" stroke="#000" stroke-width="0.0">)</text>
<text transform="rotate(-90)" x="-484.89" y="195.20" font-size="13.0" textLength="108.43" lengthAdjust="spacingAndGlyphs" fill="#000" stroke="#000" stroke-width="0.0">Transmittance (%)</text>
</g></svg>
</body></html>
